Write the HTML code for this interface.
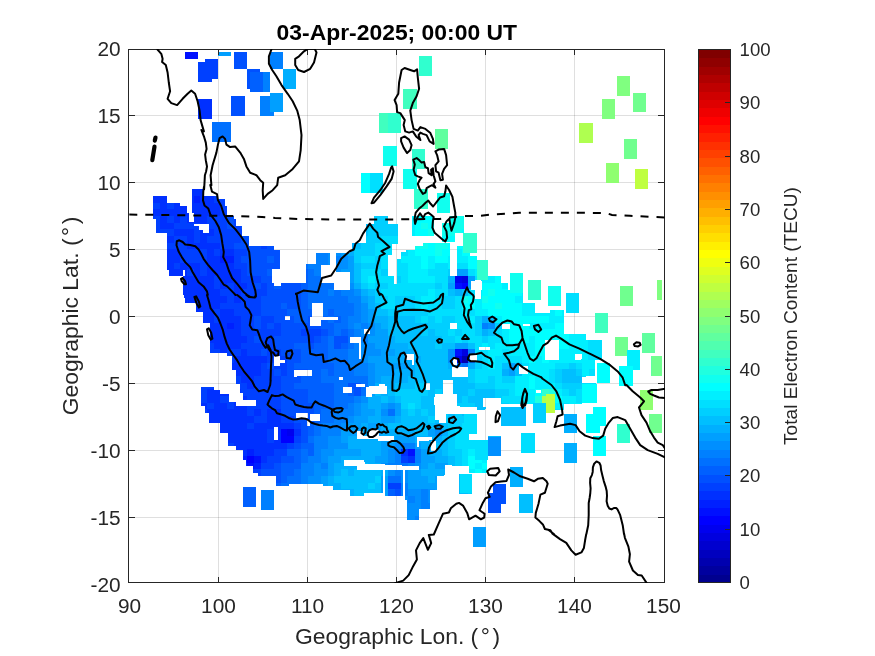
<!DOCTYPE html><html><head><meta charset="utf-8"><title>TEC map</title>
<style>html,body{margin:0;padding:0;background:#fff;}body{width:875px;height:656px;overflow:hidden;font-family:"Liberation Sans",sans-serif;}svg{display:block;will-change:transform;}text{font-family:"Liberation Sans",sans-serif;fill:#262626;}</style></head><body>
<svg width="875" height="656" viewBox="0 0 875 656">
<rect x="0" y="0" width="875" height="656" fill="#ffffff"/>
<path d="M218.5 49.5V582.5M307.5 49.5V582.5M396.5 49.5V582.5M485.5 49.5V582.5M574.5 49.5V582.5" stroke="#262626" stroke-opacity="0.15" stroke-width="1" fill="none" shape-rendering="crispEdges"/>
<path d="M128.5 517.5H664.5M128.5 450.5H664.5M128.5 383.5H664.5M128.5 316.5H664.5M128.5 249.5H664.5M128.5 182.5H664.5M128.5 115.5H664.5" stroke="#262626" stroke-opacity="0.15" stroke-width="1" fill="none" shape-rendering="crispEdges"/>
<defs><clipPath id="axclip"><rect x="128" y="49" width="537" height="534"/></clipPath></defs><defs><mask id="blob" maskUnits="userSpaceOnUse" x="0" y="0" width="875" height="656"><rect x="0" y="0" width="875" height="656" fill="#000"/><g fill="#fff" shape-rendering="crispEdges"><rect x="153.4" y="195.9" width="13.4" height="23.5"/><rect x="155.9" y="202.6" width="24.3" height="30.2"/><rect x="166.8" y="206.0" width="20.4" height="63.7"/><rect x="187.2" y="212.7" width="2.0" height="57.0"/><rect x="189.2" y="222.2" width="4.7" height="72.7"/><rect x="169.3" y="269.6" width="13.4" height="6.7"/><rect x="182.7" y="276.4" width="2.0" height="18.6"/><rect x="184.7" y="267.1" width="9.2" height="27.8"/><rect x="191.6" y="189.2" width="12.4" height="23.5"/><rect x="193.9" y="212.7" width="10.1" height="10.9"/><rect x="193.9" y="223.6" width="10.1" height="9.2"/><rect x="193.9" y="232.8" width="10.1" height="62.2"/><rect x="204.0" y="195.6" width="12.9" height="99.4"/><rect x="216.9" y="199.2" width="8.0" height="95.7"/><rect x="224.9" y="206.0" width="2.0" height="89.0"/><rect x="226.9" y="216.0" width="6.7" height="78.9"/><rect x="233.6" y="219.4" width="2.2" height="75.6"/><rect x="235.8" y="226.1" width="6.2" height="68.9"/><rect x="242.0" y="236.3" width="7.2" height="58.7"/><rect x="249.2" y="246.3" width="22.3" height="48.6"/><rect x="271.5" y="246.3" width="2.5" height="22.5"/><rect x="274.0" y="249.7" width="6.4" height="19.1"/><rect x="271.5" y="283.1" width="2.5" height="11.9"/><rect x="274.0" y="285.6" width="22.0" height="9.4"/><rect x="280.7" y="283.1" width="15.3" height="2.5"/><rect x="374.4" y="216.0" width="13.4" height="10.1"/><rect x="365.6" y="223.6" width="32.7" height="20.1"/><rect x="352.2" y="242.8" width="40.2" height="12.6"/><rect x="349.6" y="249.5" width="38.2" height="45.4"/><rect x="336.2" y="252.9" width="13.4" height="19.3"/><rect x="316.1" y="252.9" width="13.4" height="12.1"/><rect x="305.7" y="263.8" width="15.4" height="31.2"/><rect x="295.2" y="282.6" width="10.6" height="12.4"/><rect x="321.1" y="283.1" width="12.6" height="11.9"/><rect x="333.7" y="289.8" width="15.9" height="5.2"/><rect x="387.9" y="276.4" width="6.2" height="18.6"/><rect x="394.1" y="283.9" width="2.5" height="11.1"/><rect x="396.6" y="258.8" width="46.1" height="36.2"/><rect x="400.8" y="252.0" width="41.9" height="6.7"/><rect x="405.8" y="249.5" width="36.9" height="2.5"/><rect x="415.0" y="246.2" width="27.7" height="3.4"/><rect x="423.4" y="242.8" width="19.3" height="3.4"/><rect x="412.2" y="215.7" width="21.7" height="20.1"/><rect x="441.5" y="222.6" width="13.2" height="19.5"/><rect x="449.7" y="215.7" width="13.8" height="17.6"/><rect x="463.0" y="232.8" width="13.7" height="20.1"/><rect x="457.1" y="246.2" width="12.6" height="48.8"/><rect x="469.7" y="256.2" width="7.0" height="25.1"/><rect x="476.7" y="259.6" width="10.9" height="20.1"/><rect x="441.2" y="242.8" width="9.2" height="52.1"/><rect x="450.4" y="276.4" width="6.7" height="18.6"/><rect x="487.6" y="276.4" width="13.4" height="18.6"/><rect x="501.0" y="283.1" width="7.2" height="11.9"/><rect x="482.2" y="279.7" width="5.4" height="15.3"/><rect x="481.4" y="289.8" width="9.2" height="5.2"/><rect x="183.5" y="295.0" width="113.1" height="3.4"/><rect x="185.2" y="298.4" width="111.5" height="4.7"/><rect x="195.6" y="303.0" width="101.1" height="8.7"/><rect x="202.8" y="311.8" width="93.9" height="11.4"/><rect x="209.5" y="323.2" width="87.2" height="29.7"/><rect x="227.4" y="352.8" width="69.2" height="3.4"/><rect x="232.1" y="356.2" width="64.5" height="13.4"/><rect x="236.3" y="369.6" width="60.3" height="14.2"/><rect x="240.5" y="383.8" width="56.2" height="9.2"/><rect x="243.0" y="393.1" width="53.6" height="6.7"/><rect x="256.4" y="399.8" width="40.2" height="5.9"/><rect x="200.6" y="386.9" width="13.1" height="15.4"/><rect x="203.3" y="402.3" width="10.4" height="3.4"/><rect x="213.7" y="390.2" width="6.7" height="15.4"/><rect x="220.4" y="393.6" width="8.4" height="12.1"/><rect x="228.8" y="402.3" width="3.4" height="3.4"/><rect x="295.2" y="294.2" width="148.3" height="111.5"/><rect x="441.0" y="295.0" width="10.0" height="110.0"/><rect x="450.0" y="272.5" width="6.3" height="131.4"/><rect x="456.3" y="247.5" width="13.8" height="156.4"/><rect x="463.8" y="240.0" width="12.5" height="12.5"/><rect x="470.0" y="260.0" width="18.0" height="143.9"/><rect x="488.0" y="276.3" width="13.3" height="127.7"/><rect x="501.3" y="290.1" width="8.8" height="113.9"/><rect x="510.1" y="273.0" width="13.3" height="130.9"/><rect x="523.3" y="302.6" width="11.8" height="101.4"/><rect x="535.1" y="312.6" width="15.0" height="91.4"/><rect x="550.1" y="309.6" width="13.8" height="94.4"/><rect x="563.9" y="333.9" width="18.0" height="70.1"/><rect x="581.9" y="333.9" width="4.5" height="42.6"/><rect x="586.4" y="340.1" width="15.0" height="19.5"/><rect x="586.4" y="359.6" width="8.8" height="16.8"/><rect x="581.9" y="383.2" width="14.5" height="19.5"/><rect x="200.6" y="387.0" width="4.5" height="19.3"/><rect x="205.1" y="387.0" width="4.3" height="25.5"/><rect x="209.3" y="387.0" width="4.3" height="36.0"/><rect x="213.6" y="390.3" width="6.8" height="32.8"/><rect x="220.1" y="393.5" width="7.5" height="39.0"/><rect x="227.6" y="393.5" width="1.3" height="52.8"/><rect x="228.8" y="402.3" width="7.5" height="44.1"/><rect x="236.4" y="406.3" width="6.3" height="43.8"/><rect x="242.6" y="406.3" width="3.8" height="53.8"/><rect x="246.4" y="406.3" width="6.3" height="60.1"/><rect x="252.6" y="406.3" width="3.8" height="66.3"/><rect x="256.4" y="399.8" width="1.3" height="72.8"/><rect x="257.6" y="399.8" width="18.8" height="76.6"/><rect x="276.4" y="399.8" width="12.5" height="86.6"/><rect x="288.9" y="399.8" width="33.8" height="84.1"/><rect x="322.7" y="399.8" width="10.0" height="86.6"/><rect x="332.7" y="399.8" width="17.5" height="90.4"/><rect x="350.3" y="399.8" width="12.5" height="96.6"/><rect x="362.8" y="399.8" width="7.0" height="92.9"/><rect x="236.4" y="380.0" width="133.4" height="2.5"/><rect x="240.1" y="382.5" width="129.7" height="10.0"/><rect x="243.1" y="392.5" width="126.7" height="7.3"/><rect x="369.0" y="380.0" width="75.1" height="6.3"/><rect x="386.5" y="386.3" width="48.8" height="11.3"/><rect x="369.0" y="393.8" width="66.3" height="47.8"/><rect x="435.3" y="407.5" width="16.3" height="34.0"/><rect x="451.6" y="413.8" width="25.0" height="20.0"/><rect x="369.0" y="437.6" width="32.5" height="27.5"/><rect x="401.5" y="440.1" width="17.5" height="26.3"/><rect x="419.1" y="441.3" width="32.5" height="23.8"/><rect x="451.6" y="433.8" width="17.5" height="32.5"/><rect x="469.1" y="440.1" width="17.5" height="20.0"/><rect x="474.1" y="460.1" width="12.5" height="12.5"/><rect x="369.0" y="470.1" width="13.8" height="22.5"/><rect x="385.3" y="470.1" width="17.5" height="26.3"/><rect x="405.3" y="470.1" width="31.3" height="20.0"/><rect x="419.1" y="465.1" width="25.0" height="11.3"/><rect x="405.3" y="490.1" width="25.0" height="10.0"/><rect x="406.5" y="500.2" width="12.5" height="20.0"/><rect x="419.1" y="490.1" width="11.3" height="18.8"/><rect x="459.1" y="473.9" width="13.0" height="18.8"/><rect x="452.9" y="380.0" width="33.8" height="17.5"/><rect x="456.6" y="397.5" width="12.5" height="8.8"/><rect x="470.4" y="395.0" width="16.3" height="13.8"/><rect x="350.0" y="488.8" width="13.8" height="7.5"/><rect x="385.6" y="470.0" width="13.3" height="7.5"/><rect x="430.1" y="458.8" width="15.0" height="16.3"/><rect x="458.9" y="473.8" width="13.0" height="20.0"/><rect x="468.9" y="458.8" width="13.8" height="13.8"/><rect x="473.9" y="440.0" width="13.8" height="18.8"/><rect x="445.1" y="440.0" width="28.8" height="22.5"/><rect x="460.0" y="395.0" width="10.0" height="12.5"/><rect x="470.0" y="395.0" width="15.0" height="15.0"/><rect x="510.1" y="395.0" width="11.3" height="8.8"/><rect x="555.1" y="395.0" width="8.8" height="15.0"/></g><g fill="#000" shape-rendering="crispEdges"><rect x="193.9" y="223.6" width="15.1" height="2.5"/><rect x="198.6" y="226.1" width="10.4" height="3.7"/><rect x="203.1" y="229.8" width="5.9" height="3.0"/><rect x="470.5" y="281.4" width="11.7" height="8.4"/><rect x="450.4" y="246.2" width="6.7" height="30.2"/><rect x="285.4" y="316.0" width="4.2" height="4.2"/><rect x="274.0" y="356.2" width="5.9" height="10.1"/><rect x="279.9" y="359.5" width="5.0" height="3.9"/><rect x="294.2" y="370.4" width="2.5" height="6.7"/><rect x="311.9" y="303.0" width="10.9" height="13.7"/><rect x="309.7" y="316.5" width="28.2" height="3.7"/><rect x="309.7" y="320.1" width="11.1" height="5.9"/><rect x="350.0" y="336.6" width="10.6" height="6.2"/><rect x="358.9" y="342.8" width="1.7" height="15.9"/><rect x="296.0" y="370.4" width="15.9" height="5.9"/><rect x="338.7" y="376.6" width="4.2" height="3.5"/><rect x="343.3" y="386.9" width="8.5" height="6.2"/><rect x="356.3" y="383.5" width="8.4" height="3.4"/><rect x="365.6" y="386.9" width="19.3" height="6.2"/><rect x="379.0" y="383.5" width="5.9" height="3.7"/><rect x="365.6" y="393.1" width="6.7" height="3.4"/><rect x="405.0" y="353.7" width="9.2" height="6.7"/><rect x="411.7" y="360.4" width="2.5" height="5.0"/><rect x="425.9" y="383.8" width="4.2" height="5.9"/><rect x="434.3" y="397.2" width="8.4" height="7.7"/><rect x="449.5" y="322.7" width="7.5" height="6.7"/><rect x="501.5" y="323.5" width="8.4" height="5.9"/><rect x="523.3" y="323.5" width="6.7" height="2.5"/><rect x="479.2" y="347.0" width="10.6" height="2.5"/><rect x="519.1" y="366.2" width="9.2" height="7.5"/><rect x="536.7" y="390.2" width="4.5" height="2.8"/><rect x="575.3" y="353.7" width="5.9" height="6.7"/><rect x="475.0" y="280.1" width="6.3" height="18.8"/><rect x="545.1" y="340.1" width="13.8" height="20.0"/><rect x="575.2" y="353.9" width="6.8" height="5.0"/><rect x="536.4" y="389.7" width="5.0" height="3.0"/><rect x="274.4" y="427.1" width="3.8" height="13.0"/><rect x="307.2" y="420.1" width="3.0" height="6.3"/><rect x="310.2" y="413.8" width="10.0" height="7.5"/><rect x="296.4" y="412.5" width="11.3" height="5.0"/><rect x="342.7" y="387.0" width="8.8" height="5.5"/><rect x="356.5" y="383.8" width="8.8" height="3.3"/><rect x="344.0" y="460.1" width="20.0" height="6.3"/><rect x="356.5" y="466.4" width="13.3" height="3.8"/><rect x="356.5" y="431.3" width="6.3" height="7.5"/><rect x="369.0" y="386.3" width="17.5" height="7.5"/><rect x="377.8" y="436.3" width="16.3" height="4.5"/><rect x="419.1" y="437.6" width="10.0" height="3.8"/><rect x="445.3" y="380.0" width="7.5" height="15.0"/><rect x="435.3" y="393.8" width="21.3" height="13.8"/><rect x="435.3" y="407.5" width="10.0" height="12.5"/><rect x="345.0" y="462.0" width="20.0" height="4.3"/><rect x="365.0" y="463.8" width="20.0" height="3.8"/><rect x="452.2" y="367.0" width="15.7" height="10.1"/><rect x="443.4" y="380.2" width="8.8" height="16.3"/><rect x="434.6" y="396.5" width="22.6" height="17.0"/><rect x="457.2" y="406.6" width="19.7" height="6.9"/><rect x="476.9" y="409.7" width="8.5" height="22.3"/><rect x="483.0" y="398.4" width="17.6" height="8.8"/><rect x="485.5" y="407.2" width="15.7" height="24.8"/><rect x="439.0" y="413.5" width="6.9" height="9.4"/><rect x="425.8" y="383.3" width="4.4" height="6.3"/><rect x="452.5" y="358.2" width="4.3" height="6.9"/><rect x="469.8" y="355.3" width="6.9" height="5.4"/><rect x="363.9" y="328.5" width="5.9" height="5.4"/><rect x="416.8" y="437.1" width="15.1" height="3.1"/><rect x="416.8" y="440.3" width="2.3" height="6.3"/><rect x="368.5" y="430.2" width="10.1" height="6.9"/><rect x="360.0" y="435.5" width="18.9" height="3.5"/><rect x="431.4" y="441.3" width="5.0" height="9.7"/></g></mask></defs><g mask="url(#blob)" shape-rendering="crispEdges"><rect x="153.4" y="189.2" width="13.7" height="7.0" fill="#0030ff"/><rect x="166.8" y="189.2" width="7.0" height="7.0" fill="#0040ff"/><rect x="186.9" y="189.2" width="33.8" height="7.0" fill="#0030ff"/><rect x="153.4" y="195.9" width="40.5" height="7.0" fill="#0030ff"/><rect x="193.6" y="195.9" width="7.0" height="7.0" fill="#0020ff"/><rect x="200.3" y="195.9" width="13.7" height="7.0" fill="#0030ff"/><rect x="213.7" y="195.9" width="20.4" height="7.0" fill="#0040ff"/><rect x="153.4" y="202.5" width="7.0" height="7.0" fill="#0040ff"/><rect x="160.1" y="202.5" width="7.0" height="7.0" fill="#0030ff"/><rect x="166.8" y="202.5" width="7.0" height="7.0" fill="#0040ff"/><rect x="173.5" y="202.5" width="47.2" height="7.0" fill="#0030ff"/><rect x="220.4" y="202.5" width="13.7" height="7.0" fill="#0040ff"/><rect x="153.4" y="209.2" width="67.3" height="7.0" fill="#0030ff"/><rect x="220.4" y="209.2" width="20.4" height="7.0" fill="#0040ff"/><rect x="367.8" y="209.2" width="27.1" height="7.0" fill="#00cfff"/><rect x="408.0" y="209.2" width="7.0" height="7.0" fill="#00efff"/><rect x="414.7" y="209.2" width="7.0" height="7.0" fill="#00ffff"/><rect x="421.4" y="209.2" width="7.0" height="7.0" fill="#00efff"/><rect x="428.1" y="209.2" width="20.4" height="7.0" fill="#00ffff"/><rect x="448.2" y="209.2" width="20.4" height="7.0" fill="#10ffef"/><rect x="153.4" y="215.9" width="7.0" height="7.0" fill="#0040ff"/><rect x="160.1" y="215.9" width="7.0" height="7.0" fill="#0030ff"/><rect x="166.8" y="215.9" width="7.0" height="7.0" fill="#0040ff"/><rect x="173.5" y="215.9" width="7.0" height="7.0" fill="#0030ff"/><rect x="180.2" y="215.9" width="7.0" height="7.0" fill="#0040ff"/><rect x="186.9" y="215.9" width="20.4" height="7.0" fill="#0030ff"/><rect x="207.0" y="215.9" width="20.4" height="7.0" fill="#0040ff"/><rect x="227.1" y="215.9" width="7.0" height="7.0" fill="#0050ff"/><rect x="233.8" y="215.9" width="7.0" height="7.0" fill="#0040ff"/><rect x="361.1" y="215.9" width="33.8" height="7.0" fill="#00cfff"/><rect x="394.6" y="215.9" width="13.7" height="7.0" fill="#00dfff"/><rect x="408.0" y="215.9" width="7.0" height="7.0" fill="#00efff"/><rect x="414.7" y="215.9" width="27.1" height="7.0" fill="#00ffff"/><rect x="441.5" y="215.9" width="27.1" height="7.0" fill="#10ffef"/><rect x="153.4" y="222.5" width="7.0" height="7.0" fill="#0040ff"/><rect x="160.1" y="222.5" width="13.7" height="7.0" fill="#0030ff"/><rect x="173.5" y="222.5" width="27.1" height="7.0" fill="#0040ff"/><rect x="200.3" y="222.5" width="7.0" height="7.0" fill="#0030ff"/><rect x="207.0" y="222.5" width="20.4" height="7.0" fill="#0040ff"/><rect x="227.1" y="222.5" width="7.0" height="7.0" fill="#0050ff"/><rect x="233.8" y="222.5" width="7.0" height="7.0" fill="#0040ff"/><rect x="240.5" y="222.5" width="7.0" height="7.0" fill="#0050ff"/><rect x="361.1" y="222.5" width="7.0" height="7.0" fill="#00bfff"/><rect x="367.8" y="222.5" width="33.8" height="7.0" fill="#00cfff"/><rect x="401.3" y="222.5" width="7.0" height="7.0" fill="#00dfff"/><rect x="408.0" y="222.5" width="7.0" height="7.0" fill="#00efff"/><rect x="414.7" y="222.5" width="7.0" height="7.0" fill="#00ffff"/><rect x="421.4" y="222.5" width="7.0" height="7.0" fill="#10ffef"/><rect x="428.1" y="222.5" width="13.7" height="7.0" fill="#00ffff"/><rect x="441.5" y="222.5" width="27.1" height="7.0" fill="#10ffef"/><rect x="153.4" y="229.2" width="20.4" height="7.0" fill="#0040ff"/><rect x="173.5" y="229.2" width="20.4" height="7.0" fill="#0030ff"/><rect x="193.6" y="229.2" width="7.0" height="7.0" fill="#0040ff"/><rect x="200.3" y="229.2" width="13.7" height="7.0" fill="#0030ff"/><rect x="213.7" y="229.2" width="33.8" height="7.0" fill="#0040ff"/><rect x="247.2" y="229.2" width="7.0" height="7.0" fill="#0050ff"/><rect x="361.1" y="229.2" width="7.0" height="7.0" fill="#00bfff"/><rect x="367.8" y="229.2" width="33.8" height="7.0" fill="#00cfff"/><rect x="401.3" y="229.2" width="7.0" height="7.0" fill="#00dfff"/><rect x="408.0" y="229.2" width="7.0" height="7.0" fill="#00efff"/><rect x="414.7" y="229.2" width="13.7" height="7.0" fill="#00ffff"/><rect x="428.1" y="229.2" width="33.8" height="7.0" fill="#10ffef"/><rect x="461.6" y="229.2" width="20.4" height="7.0" fill="#00ffff"/><rect x="153.4" y="235.9" width="7.0" height="7.0" fill="#0040ff"/><rect x="160.1" y="235.9" width="13.7" height="7.0" fill="#0030ff"/><rect x="173.5" y="235.9" width="13.7" height="7.0" fill="#0040ff"/><rect x="186.9" y="235.9" width="7.0" height="7.0" fill="#0030ff"/><rect x="193.6" y="235.9" width="7.0" height="7.0" fill="#0040ff"/><rect x="200.3" y="235.9" width="7.0" height="7.0" fill="#0030ff"/><rect x="207.0" y="235.9" width="33.8" height="7.0" fill="#0040ff"/><rect x="240.5" y="235.9" width="13.7" height="7.0" fill="#0050ff"/><rect x="347.7" y="235.9" width="13.7" height="7.0" fill="#00bfff"/><rect x="361.1" y="235.9" width="20.4" height="7.0" fill="#00cfff"/><rect x="381.2" y="235.9" width="20.4" height="7.0" fill="#00dfff"/><rect x="401.3" y="235.9" width="7.0" height="7.0" fill="#00efff"/><rect x="408.0" y="235.9" width="7.0" height="7.0" fill="#00ffff"/><rect x="414.7" y="235.9" width="7.0" height="7.0" fill="#20ffdf"/><rect x="421.4" y="235.9" width="13.7" height="7.0" fill="#10ffef"/><rect x="434.8" y="235.9" width="47.2" height="7.0" fill="#00ffff"/><rect x="160.1" y="242.6" width="7.0" height="7.0" fill="#0030ff"/><rect x="166.8" y="242.6" width="20.4" height="7.0" fill="#0040ff"/><rect x="186.9" y="242.6" width="33.8" height="7.0" fill="#0030ff"/><rect x="220.4" y="242.6" width="13.7" height="7.0" fill="#0040ff"/><rect x="233.8" y="242.6" width="27.1" height="7.0" fill="#0050ff"/><rect x="260.6" y="242.6" width="7.0" height="7.0" fill="#0040ff"/><rect x="267.3" y="242.6" width="7.0" height="7.0" fill="#0050ff"/><rect x="274.0" y="242.6" width="13.7" height="7.0" fill="#0060ff"/><rect x="341.0" y="242.6" width="7.0" height="7.0" fill="#009fff"/><rect x="347.7" y="242.6" width="7.0" height="7.0" fill="#00afff"/><rect x="354.4" y="242.6" width="7.0" height="7.0" fill="#00bfff"/><rect x="361.1" y="242.6" width="13.7" height="7.0" fill="#00cfff"/><rect x="374.5" y="242.6" width="27.1" height="7.0" fill="#00dfff"/><rect x="401.3" y="242.6" width="7.0" height="7.0" fill="#00efff"/><rect x="408.0" y="242.6" width="7.0" height="7.0" fill="#00ffff"/><rect x="414.7" y="242.6" width="13.7" height="7.0" fill="#10ffef"/><rect x="428.1" y="242.6" width="7.0" height="7.0" fill="#00ffff"/><rect x="434.8" y="242.6" width="13.7" height="7.0" fill="#10ffef"/><rect x="448.2" y="242.6" width="33.8" height="7.0" fill="#00ffff"/><rect x="160.1" y="249.2" width="20.4" height="7.0" fill="#0030ff"/><rect x="180.2" y="249.2" width="27.1" height="7.0" fill="#0040ff"/><rect x="207.0" y="249.2" width="7.0" height="7.0" fill="#0030ff"/><rect x="213.7" y="249.2" width="7.0" height="7.0" fill="#0040ff"/><rect x="220.4" y="249.2" width="13.7" height="7.0" fill="#0030ff"/><rect x="233.8" y="249.2" width="13.7" height="7.0" fill="#0040ff"/><rect x="247.2" y="249.2" width="33.8" height="7.0" fill="#0050ff"/><rect x="280.7" y="249.2" width="7.0" height="7.0" fill="#0060ff"/><rect x="307.5" y="249.2" width="20.4" height="7.0" fill="#0080ff"/><rect x="327.6" y="249.2" width="13.7" height="7.0" fill="#008fff"/><rect x="341.0" y="249.2" width="7.0" height="7.0" fill="#009fff"/><rect x="347.7" y="249.2" width="7.0" height="7.0" fill="#00afff"/><rect x="354.4" y="249.2" width="20.4" height="7.0" fill="#00cfff"/><rect x="374.5" y="249.2" width="33.8" height="7.0" fill="#00dfff"/><rect x="408.0" y="249.2" width="7.0" height="7.0" fill="#00efff"/><rect x="414.7" y="249.2" width="20.4" height="7.0" fill="#00ffff"/><rect x="434.8" y="249.2" width="7.0" height="7.0" fill="#10ffef"/><rect x="441.5" y="249.2" width="13.7" height="7.0" fill="#00ffff"/><rect x="454.9" y="249.2" width="7.0" height="7.0" fill="#00efff"/><rect x="461.6" y="249.2" width="20.4" height="7.0" fill="#00ffff"/><rect x="160.1" y="255.9" width="7.0" height="7.0" fill="#0040ff"/><rect x="166.8" y="255.9" width="13.7" height="7.0" fill="#0030ff"/><rect x="180.2" y="255.9" width="27.1" height="7.0" fill="#0040ff"/><rect x="207.0" y="255.9" width="13.7" height="7.0" fill="#0030ff"/><rect x="220.4" y="255.9" width="13.7" height="7.0" fill="#0020ff"/><rect x="233.8" y="255.9" width="7.0" height="7.0" fill="#0040ff"/><rect x="240.5" y="255.9" width="27.1" height="7.0" fill="#0050ff"/><rect x="267.3" y="255.9" width="7.0" height="7.0" fill="#0060ff"/><rect x="274.0" y="255.9" width="7.0" height="7.0" fill="#0050ff"/><rect x="280.7" y="255.9" width="7.0" height="7.0" fill="#0060ff"/><rect x="300.8" y="255.9" width="27.1" height="7.0" fill="#0080ff"/><rect x="327.6" y="255.9" width="7.0" height="7.0" fill="#008fff"/><rect x="334.3" y="255.9" width="7.0" height="7.0" fill="#0080ff"/><rect x="341.0" y="255.9" width="7.0" height="7.0" fill="#008fff"/><rect x="347.7" y="255.9" width="7.0" height="7.0" fill="#009fff"/><rect x="354.4" y="255.9" width="7.0" height="7.0" fill="#00cfff"/><rect x="361.1" y="255.9" width="13.7" height="7.0" fill="#00dfff"/><rect x="374.5" y="255.9" width="7.0" height="7.0" fill="#00cfff"/><rect x="381.2" y="255.9" width="20.4" height="7.0" fill="#00dfff"/><rect x="401.3" y="255.9" width="20.4" height="7.0" fill="#00efff"/><rect x="421.4" y="255.9" width="7.0" height="7.0" fill="#00ffff"/><rect x="428.1" y="255.9" width="7.0" height="7.0" fill="#00efff"/><rect x="434.8" y="255.9" width="13.7" height="7.0" fill="#00ffff"/><rect x="448.2" y="255.9" width="20.4" height="7.0" fill="#00efff"/><rect x="468.3" y="255.9" width="27.1" height="7.0" fill="#00ffff"/><rect x="160.1" y="262.6" width="7.0" height="7.0" fill="#0040ff"/><rect x="166.8" y="262.6" width="7.0" height="7.0" fill="#0030ff"/><rect x="173.5" y="262.6" width="7.0" height="7.0" fill="#0040ff"/><rect x="180.2" y="262.6" width="20.4" height="7.0" fill="#0030ff"/><rect x="200.3" y="262.6" width="7.0" height="7.0" fill="#0040ff"/><rect x="207.0" y="262.6" width="27.1" height="7.0" fill="#0030ff"/><rect x="233.8" y="262.6" width="13.7" height="7.0" fill="#0040ff"/><rect x="247.2" y="262.6" width="40.5" height="7.0" fill="#0050ff"/><rect x="300.8" y="262.6" width="7.0" height="7.0" fill="#0070ff"/><rect x="307.5" y="262.6" width="20.4" height="7.0" fill="#0080ff"/><rect x="327.6" y="262.6" width="20.4" height="7.0" fill="#008fff"/><rect x="347.7" y="262.6" width="7.0" height="7.0" fill="#009fff"/><rect x="354.4" y="262.6" width="7.0" height="7.0" fill="#00bfff"/><rect x="361.1" y="262.6" width="20.4" height="7.0" fill="#00cfff"/><rect x="381.2" y="262.6" width="27.1" height="7.0" fill="#00dfff"/><rect x="408.0" y="262.6" width="13.7" height="7.0" fill="#00efff"/><rect x="421.4" y="262.6" width="7.0" height="7.0" fill="#00ffff"/><rect x="428.1" y="262.6" width="7.0" height="7.0" fill="#00efff"/><rect x="434.8" y="262.6" width="13.7" height="7.0" fill="#00dfff"/><rect x="448.2" y="262.6" width="7.0" height="7.0" fill="#00efff"/><rect x="454.9" y="262.6" width="13.7" height="7.0" fill="#00dfff"/><rect x="468.3" y="262.6" width="20.4" height="7.0" fill="#00ffff"/><rect x="488.4" y="262.6" width="7.0" height="7.0" fill="#00efff"/><rect x="160.1" y="269.2" width="27.1" height="7.0" fill="#0030ff"/><rect x="186.9" y="269.2" width="7.0" height="7.0" fill="#0040ff"/><rect x="193.6" y="269.2" width="7.0" height="7.0" fill="#0030ff"/><rect x="200.3" y="269.2" width="7.0" height="7.0" fill="#0040ff"/><rect x="207.0" y="269.2" width="33.8" height="7.0" fill="#0030ff"/><rect x="240.5" y="269.2" width="7.0" height="7.0" fill="#0040ff"/><rect x="247.2" y="269.2" width="20.4" height="7.0" fill="#0050ff"/><rect x="267.3" y="269.2" width="7.0" height="7.0" fill="#0060ff"/><rect x="274.0" y="269.2" width="7.0" height="7.0" fill="#0050ff"/><rect x="280.7" y="269.2" width="7.0" height="7.0" fill="#0060ff"/><rect x="300.8" y="269.2" width="7.0" height="7.0" fill="#0060ff"/><rect x="307.5" y="269.2" width="7.0" height="7.0" fill="#0070ff"/><rect x="314.2" y="269.2" width="20.4" height="7.0" fill="#0080ff"/><rect x="334.3" y="269.2" width="7.0" height="7.0" fill="#008fff"/><rect x="341.0" y="269.2" width="13.7" height="7.0" fill="#009fff"/><rect x="354.4" y="269.2" width="7.0" height="7.0" fill="#00bfff"/><rect x="361.1" y="269.2" width="20.4" height="7.0" fill="#00dfff"/><rect x="381.2" y="269.2" width="13.7" height="7.0" fill="#00cfff"/><rect x="394.6" y="269.2" width="13.7" height="7.0" fill="#00dfff"/><rect x="408.0" y="269.2" width="20.4" height="7.0" fill="#00efff"/><rect x="428.1" y="269.2" width="20.4" height="7.0" fill="#00dfff"/><rect x="448.2" y="269.2" width="7.0" height="7.0" fill="#00cfff"/><rect x="454.9" y="269.2" width="13.7" height="7.0" fill="#009fff"/><rect x="468.3" y="269.2" width="7.0" height="7.0" fill="#00dfff"/><rect x="475.0" y="269.2" width="27.1" height="7.0" fill="#00efff"/><rect x="501.8" y="269.2" width="13.7" height="7.0" fill="#00ffff"/><rect x="515.2" y="269.2" width="13.7" height="7.0" fill="#00efff"/><rect x="160.1" y="275.9" width="13.7" height="7.0" fill="#0040ff"/><rect x="173.5" y="275.9" width="40.5" height="7.0" fill="#0030ff"/><rect x="213.7" y="275.9" width="7.0" height="7.0" fill="#0040ff"/><rect x="220.4" y="275.9" width="20.4" height="7.0" fill="#0030ff"/><rect x="240.5" y="275.9" width="20.4" height="7.0" fill="#0040ff"/><rect x="260.6" y="275.9" width="40.5" height="7.0" fill="#0050ff"/><rect x="300.8" y="275.9" width="7.0" height="7.0" fill="#0060ff"/><rect x="307.5" y="275.9" width="20.4" height="7.0" fill="#0070ff"/><rect x="327.6" y="275.9" width="13.7" height="7.0" fill="#0080ff"/><rect x="341.0" y="275.9" width="7.0" height="7.0" fill="#008fff"/><rect x="347.7" y="275.9" width="7.0" height="7.0" fill="#009fff"/><rect x="354.4" y="275.9" width="7.0" height="7.0" fill="#00bfff"/><rect x="361.1" y="275.9" width="7.0" height="7.0" fill="#00dfff"/><rect x="367.8" y="275.9" width="7.0" height="7.0" fill="#00efff"/><rect x="374.5" y="275.9" width="20.4" height="7.0" fill="#00dfff"/><rect x="394.6" y="275.9" width="7.0" height="7.0" fill="#00cfff"/><rect x="401.3" y="275.9" width="7.0" height="7.0" fill="#00dfff"/><rect x="408.0" y="275.9" width="27.1" height="7.0" fill="#00efff"/><rect x="434.8" y="275.9" width="13.7" height="7.0" fill="#00dfff"/><rect x="448.2" y="275.9" width="7.0" height="7.0" fill="#00afff"/><rect x="454.9" y="275.9" width="7.0" height="7.0" fill="#0000ef"/><rect x="461.6" y="275.9" width="7.0" height="7.0" fill="#0000df"/><rect x="468.3" y="275.9" width="7.0" height="7.0" fill="#009fff"/><rect x="475.0" y="275.9" width="7.0" height="7.0" fill="#00dfff"/><rect x="481.7" y="275.9" width="13.7" height="7.0" fill="#00efff"/><rect x="495.1" y="275.9" width="7.0" height="7.0" fill="#00ffff"/><rect x="501.8" y="275.9" width="27.1" height="7.0" fill="#00efff"/><rect x="173.5" y="282.6" width="7.0" height="7.0" fill="#0040ff"/><rect x="180.2" y="282.6" width="33.8" height="7.0" fill="#0030ff"/><rect x="213.7" y="282.6" width="7.0" height="7.0" fill="#0040ff"/><rect x="220.4" y="282.6" width="7.0" height="7.0" fill="#0030ff"/><rect x="227.1" y="282.6" width="7.0" height="7.0" fill="#0040ff"/><rect x="233.8" y="282.6" width="13.7" height="7.0" fill="#0030ff"/><rect x="247.2" y="282.6" width="7.0" height="7.0" fill="#0040ff"/><rect x="253.9" y="282.6" width="7.0" height="7.0" fill="#0050ff"/><rect x="260.6" y="282.6" width="7.0" height="7.0" fill="#0040ff"/><rect x="267.3" y="282.6" width="7.0" height="7.0" fill="#0050ff"/><rect x="274.0" y="282.6" width="7.0" height="7.0" fill="#0060ff"/><rect x="280.7" y="282.6" width="20.4" height="7.0" fill="#0050ff"/><rect x="300.8" y="282.6" width="7.0" height="7.0" fill="#0060ff"/><rect x="307.5" y="282.6" width="33.8" height="7.0" fill="#0070ff"/><rect x="341.0" y="282.6" width="7.0" height="7.0" fill="#0080ff"/><rect x="347.7" y="282.6" width="7.0" height="7.0" fill="#008fff"/><rect x="354.4" y="282.6" width="7.0" height="7.0" fill="#00afff"/><rect x="361.1" y="282.6" width="7.0" height="7.0" fill="#00cfff"/><rect x="367.8" y="282.6" width="7.0" height="7.0" fill="#00dfff"/><rect x="374.5" y="282.6" width="13.7" height="7.0" fill="#00cfff"/><rect x="387.9" y="282.6" width="47.2" height="7.0" fill="#00dfff"/><rect x="434.8" y="282.6" width="7.0" height="7.0" fill="#00cfff"/><rect x="441.5" y="282.6" width="7.0" height="7.0" fill="#00dfff"/><rect x="448.2" y="282.6" width="7.0" height="7.0" fill="#009fff"/><rect x="454.9" y="282.6" width="7.0" height="7.0" fill="#0010ff"/><rect x="461.6" y="282.6" width="7.0" height="7.0" fill="#0000ff"/><rect x="468.3" y="282.6" width="7.0" height="7.0" fill="#009fff"/><rect x="475.0" y="282.6" width="7.0" height="7.0" fill="#00efff"/><rect x="481.7" y="282.6" width="20.4" height="7.0" fill="#00ffff"/><rect x="501.8" y="282.6" width="13.7" height="7.0" fill="#00efff"/><rect x="515.2" y="282.6" width="7.0" height="7.0" fill="#00ffff"/><rect x="521.9" y="282.6" width="7.0" height="7.0" fill="#00efff"/><rect x="173.5" y="289.2" width="47.2" height="7.0" fill="#0030ff"/><rect x="220.4" y="289.2" width="13.7" height="7.0" fill="#0040ff"/><rect x="233.8" y="289.2" width="7.0" height="7.0" fill="#0030ff"/><rect x="240.5" y="289.2" width="27.1" height="7.0" fill="#0040ff"/><rect x="267.3" y="289.2" width="33.8" height="7.0" fill="#0050ff"/><rect x="300.8" y="289.2" width="7.0" height="7.0" fill="#0060ff"/><rect x="307.5" y="289.2" width="20.4" height="7.0" fill="#0070ff"/><rect x="327.6" y="289.2" width="7.0" height="7.0" fill="#0080ff"/><rect x="334.3" y="289.2" width="7.0" height="7.0" fill="#0070ff"/><rect x="341.0" y="289.2" width="13.7" height="7.0" fill="#0080ff"/><rect x="354.4" y="289.2" width="7.0" height="7.0" fill="#008fff"/><rect x="361.1" y="289.2" width="7.0" height="7.0" fill="#00afff"/><rect x="367.8" y="289.2" width="7.0" height="7.0" fill="#00bfff"/><rect x="374.5" y="289.2" width="7.0" height="7.0" fill="#00cfff"/><rect x="381.2" y="289.2" width="47.2" height="7.0" fill="#00dfff"/><rect x="428.1" y="289.2" width="7.0" height="7.0" fill="#00efff"/><rect x="434.8" y="289.2" width="13.7" height="7.0" fill="#00dfff"/><rect x="448.2" y="289.2" width="7.0" height="7.0" fill="#00bfff"/><rect x="454.9" y="289.2" width="7.0" height="7.0" fill="#00afff"/><rect x="461.6" y="289.2" width="7.0" height="7.0" fill="#00bfff"/><rect x="468.3" y="289.2" width="7.0" height="7.0" fill="#00dfff"/><rect x="475.0" y="289.2" width="7.0" height="7.0" fill="#00efff"/><rect x="481.7" y="289.2" width="7.0" height="7.0" fill="#00ffff"/><rect x="488.4" y="289.2" width="7.0" height="7.0" fill="#10ffef"/><rect x="495.1" y="289.2" width="27.1" height="7.0" fill="#00ffff"/><rect x="521.9" y="289.2" width="7.0" height="7.0" fill="#00efff"/><rect x="173.5" y="295.9" width="7.0" height="7.0" fill="#0040ff"/><rect x="180.2" y="295.9" width="47.2" height="7.0" fill="#0030ff"/><rect x="227.1" y="295.9" width="7.0" height="7.0" fill="#0040ff"/><rect x="233.8" y="295.9" width="7.0" height="7.0" fill="#0030ff"/><rect x="240.5" y="295.9" width="20.4" height="7.0" fill="#0040ff"/><rect x="260.6" y="295.9" width="40.5" height="7.0" fill="#0050ff"/><rect x="300.8" y="295.9" width="7.0" height="7.0" fill="#0060ff"/><rect x="307.5" y="295.9" width="40.5" height="7.0" fill="#0070ff"/><rect x="347.7" y="295.9" width="13.7" height="7.0" fill="#0080ff"/><rect x="361.1" y="295.9" width="7.0" height="7.0" fill="#009fff"/><rect x="367.8" y="295.9" width="7.0" height="7.0" fill="#00afff"/><rect x="374.5" y="295.9" width="13.7" height="7.0" fill="#00cfff"/><rect x="387.9" y="295.9" width="7.0" height="7.0" fill="#00dfff"/><rect x="394.6" y="295.9" width="20.4" height="7.0" fill="#00cfff"/><rect x="414.7" y="295.9" width="7.0" height="7.0" fill="#00dfff"/><rect x="421.4" y="295.9" width="13.7" height="7.0" fill="#00efff"/><rect x="434.8" y="295.9" width="7.0" height="7.0" fill="#00dfff"/><rect x="441.5" y="295.9" width="13.7" height="7.0" fill="#00cfff"/><rect x="454.9" y="295.9" width="7.0" height="7.0" fill="#00dfff"/><rect x="461.6" y="295.9" width="7.0" height="7.0" fill="#10ffef"/><rect x="468.3" y="295.9" width="7.0" height="7.0" fill="#00ffff"/><rect x="475.0" y="295.9" width="7.0" height="7.0" fill="#00efff"/><rect x="481.7" y="295.9" width="7.0" height="7.0" fill="#10ffef"/><rect x="488.4" y="295.9" width="27.1" height="7.0" fill="#00ffff"/><rect x="515.2" y="295.9" width="27.1" height="7.0" fill="#00efff"/><rect x="180.2" y="302.6" width="40.5" height="7.0" fill="#0030ff"/><rect x="220.4" y="302.6" width="40.5" height="7.0" fill="#0040ff"/><rect x="260.6" y="302.6" width="20.4" height="7.0" fill="#0050ff"/><rect x="280.7" y="302.6" width="7.0" height="7.0" fill="#0060ff"/><rect x="287.4" y="302.6" width="13.7" height="7.0" fill="#0050ff"/><rect x="300.8" y="302.6" width="7.0" height="7.0" fill="#0060ff"/><rect x="307.5" y="302.6" width="47.2" height="7.0" fill="#0070ff"/><rect x="354.4" y="302.6" width="7.0" height="7.0" fill="#0080ff"/><rect x="361.1" y="302.6" width="7.0" height="7.0" fill="#008fff"/><rect x="367.8" y="302.6" width="7.0" height="7.0" fill="#00afff"/><rect x="374.5" y="302.6" width="7.0" height="7.0" fill="#00bfff"/><rect x="381.2" y="302.6" width="13.7" height="7.0" fill="#00dfff"/><rect x="394.6" y="302.6" width="20.4" height="7.0" fill="#00cfff"/><rect x="414.7" y="302.6" width="7.0" height="7.0" fill="#00dfff"/><rect x="421.4" y="302.6" width="7.0" height="7.0" fill="#00efff"/><rect x="428.1" y="302.6" width="13.7" height="7.0" fill="#00dfff"/><rect x="441.5" y="302.6" width="13.7" height="7.0" fill="#00cfff"/><rect x="454.9" y="302.6" width="7.0" height="7.0" fill="#00dfff"/><rect x="461.6" y="302.6" width="13.7" height="7.0" fill="#00ffff"/><rect x="475.0" y="302.6" width="7.0" height="7.0" fill="#00efff"/><rect x="481.7" y="302.6" width="13.7" height="7.0" fill="#00ffff"/><rect x="495.1" y="302.6" width="7.0" height="7.0" fill="#10ffef"/><rect x="501.8" y="302.6" width="20.4" height="7.0" fill="#00ffff"/><rect x="521.9" y="302.6" width="13.7" height="7.0" fill="#00efff"/><rect x="535.3" y="302.6" width="7.0" height="7.0" fill="#00ffff"/><rect x="542.0" y="302.6" width="27.1" height="7.0" fill="#00efff"/><rect x="186.9" y="309.3" width="27.1" height="7.0" fill="#0030ff"/><rect x="213.7" y="309.3" width="7.0" height="7.0" fill="#0040ff"/><rect x="220.4" y="309.3" width="13.7" height="7.0" fill="#0030ff"/><rect x="233.8" y="309.3" width="27.1" height="7.0" fill="#0040ff"/><rect x="260.6" y="309.3" width="27.1" height="7.0" fill="#0050ff"/><rect x="287.4" y="309.3" width="33.8" height="7.0" fill="#0060ff"/><rect x="320.9" y="309.3" width="7.0" height="7.0" fill="#0070ff"/><rect x="327.6" y="309.3" width="7.0" height="7.0" fill="#0060ff"/><rect x="334.3" y="309.3" width="20.4" height="7.0" fill="#0070ff"/><rect x="354.4" y="309.3" width="7.0" height="7.0" fill="#0080ff"/><rect x="361.1" y="309.3" width="7.0" height="7.0" fill="#008fff"/><rect x="367.8" y="309.3" width="7.0" height="7.0" fill="#009fff"/><rect x="374.5" y="309.3" width="13.7" height="7.0" fill="#00bfff"/><rect x="387.9" y="309.3" width="40.5" height="7.0" fill="#00cfff"/><rect x="428.1" y="309.3" width="33.8" height="7.0" fill="#00dfff"/><rect x="461.6" y="309.3" width="7.0" height="7.0" fill="#00efff"/><rect x="468.3" y="309.3" width="7.0" height="7.0" fill="#00dfff"/><rect x="475.0" y="309.3" width="13.7" height="7.0" fill="#00efff"/><rect x="488.4" y="309.3" width="33.8" height="7.0" fill="#00ffff"/><rect x="521.9" y="309.3" width="33.8" height="7.0" fill="#00efff"/><rect x="555.4" y="309.3" width="7.0" height="7.0" fill="#00ffff"/><rect x="562.1" y="309.3" width="7.0" height="7.0" fill="#00efff"/><rect x="193.6" y="315.9" width="7.0" height="7.0" fill="#0040ff"/><rect x="200.3" y="315.9" width="13.7" height="7.0" fill="#0030ff"/><rect x="213.7" y="315.9" width="7.0" height="7.0" fill="#0040ff"/><rect x="220.4" y="315.9" width="20.4" height="7.0" fill="#0030ff"/><rect x="240.5" y="315.9" width="13.7" height="7.0" fill="#0040ff"/><rect x="253.9" y="315.9" width="7.0" height="7.0" fill="#0050ff"/><rect x="260.6" y="315.9" width="13.7" height="7.0" fill="#0040ff"/><rect x="274.0" y="315.9" width="20.4" height="7.0" fill="#0050ff"/><rect x="294.1" y="315.9" width="13.7" height="7.0" fill="#0060ff"/><rect x="307.5" y="315.9" width="7.0" height="7.0" fill="#0050ff"/><rect x="314.2" y="315.9" width="13.7" height="7.0" fill="#0060ff"/><rect x="327.6" y="315.9" width="7.0" height="7.0" fill="#0070ff"/><rect x="334.3" y="315.9" width="7.0" height="7.0" fill="#0060ff"/><rect x="341.0" y="315.9" width="7.0" height="7.0" fill="#0070ff"/><rect x="347.7" y="315.9" width="13.7" height="7.0" fill="#0080ff"/><rect x="361.1" y="315.9" width="7.0" height="7.0" fill="#008fff"/><rect x="367.8" y="315.9" width="7.0" height="7.0" fill="#009fff"/><rect x="374.5" y="315.9" width="13.7" height="7.0" fill="#00afff"/><rect x="387.9" y="315.9" width="27.1" height="7.0" fill="#00bfff"/><rect x="414.7" y="315.9" width="7.0" height="7.0" fill="#00cfff"/><rect x="421.4" y="315.9" width="7.0" height="7.0" fill="#00dfff"/><rect x="428.1" y="315.9" width="7.0" height="7.0" fill="#00cfff"/><rect x="434.8" y="315.9" width="7.0" height="7.0" fill="#00dfff"/><rect x="441.5" y="315.9" width="13.7" height="7.0" fill="#00cfff"/><rect x="454.9" y="315.9" width="13.7" height="7.0" fill="#00dfff"/><rect x="468.3" y="315.9" width="7.0" height="7.0" fill="#00efff"/><rect x="475.0" y="315.9" width="7.0" height="7.0" fill="#00cfff"/><rect x="481.7" y="315.9" width="7.0" height="7.0" fill="#00afff"/><rect x="488.4" y="315.9" width="7.0" height="7.0" fill="#00bfff"/><rect x="495.1" y="315.9" width="7.0" height="7.0" fill="#00efff"/><rect x="501.8" y="315.9" width="47.2" height="7.0" fill="#00ffff"/><rect x="548.7" y="315.9" width="20.4" height="7.0" fill="#00efff"/><rect x="193.6" y="322.6" width="7.0" height="7.0" fill="#0040ff"/><rect x="200.3" y="322.6" width="27.1" height="7.0" fill="#0030ff"/><rect x="227.1" y="322.6" width="7.0" height="7.0" fill="#0020ff"/><rect x="233.8" y="322.6" width="7.0" height="7.0" fill="#0030ff"/><rect x="240.5" y="322.6" width="13.7" height="7.0" fill="#0040ff"/><rect x="253.9" y="322.6" width="7.0" height="7.0" fill="#0050ff"/><rect x="260.6" y="322.6" width="7.0" height="7.0" fill="#0040ff"/><rect x="267.3" y="322.6" width="7.0" height="7.0" fill="#0050ff"/><rect x="274.0" y="322.6" width="7.0" height="7.0" fill="#0040ff"/><rect x="280.7" y="322.6" width="40.5" height="7.0" fill="#0050ff"/><rect x="320.9" y="322.6" width="13.7" height="7.0" fill="#0060ff"/><rect x="334.3" y="322.6" width="13.7" height="7.0" fill="#0070ff"/><rect x="347.7" y="322.6" width="7.0" height="7.0" fill="#0080ff"/><rect x="354.4" y="322.6" width="7.0" height="7.0" fill="#008fff"/><rect x="361.1" y="322.6" width="7.0" height="7.0" fill="#0080ff"/><rect x="367.8" y="322.6" width="7.0" height="7.0" fill="#008fff"/><rect x="374.5" y="322.6" width="7.0" height="7.0" fill="#009fff"/><rect x="381.2" y="322.6" width="7.0" height="7.0" fill="#00afff"/><rect x="387.9" y="322.6" width="40.5" height="7.0" fill="#00bfff"/><rect x="428.1" y="322.6" width="27.1" height="7.0" fill="#00cfff"/><rect x="454.9" y="322.6" width="20.4" height="7.0" fill="#00dfff"/><rect x="475.0" y="322.6" width="7.0" height="7.0" fill="#00cfff"/><rect x="481.7" y="322.6" width="7.0" height="7.0" fill="#0080ff"/><rect x="488.4" y="322.6" width="7.0" height="7.0" fill="#008fff"/><rect x="495.1" y="322.6" width="7.0" height="7.0" fill="#00cfff"/><rect x="501.8" y="322.6" width="7.0" height="7.0" fill="#00efff"/><rect x="508.5" y="322.6" width="20.4" height="7.0" fill="#00ffff"/><rect x="528.6" y="322.6" width="27.1" height="7.0" fill="#00efff"/><rect x="555.4" y="322.6" width="13.7" height="7.0" fill="#00ffff"/><rect x="200.3" y="329.3" width="7.0" height="7.0" fill="#0040ff"/><rect x="207.0" y="329.3" width="33.8" height="7.0" fill="#0030ff"/><rect x="240.5" y="329.3" width="40.5" height="7.0" fill="#0040ff"/><rect x="280.7" y="329.3" width="20.4" height="7.0" fill="#0050ff"/><rect x="300.8" y="329.3" width="20.4" height="7.0" fill="#0040ff"/><rect x="320.9" y="329.3" width="7.0" height="7.0" fill="#0050ff"/><rect x="327.6" y="329.3" width="7.0" height="7.0" fill="#0060ff"/><rect x="334.3" y="329.3" width="7.0" height="7.0" fill="#0070ff"/><rect x="341.0" y="329.3" width="7.0" height="7.0" fill="#0060ff"/><rect x="347.7" y="329.3" width="7.0" height="7.0" fill="#0070ff"/><rect x="354.4" y="329.3" width="7.0" height="7.0" fill="#0080ff"/><rect x="361.1" y="329.3" width="13.7" height="7.0" fill="#008fff"/><rect x="374.5" y="329.3" width="13.7" height="7.0" fill="#009fff"/><rect x="387.9" y="329.3" width="33.8" height="7.0" fill="#00bfff"/><rect x="421.4" y="329.3" width="7.0" height="7.0" fill="#00cfff"/><rect x="428.1" y="329.3" width="7.0" height="7.0" fill="#00bfff"/><rect x="434.8" y="329.3" width="13.7" height="7.0" fill="#00cfff"/><rect x="448.2" y="329.3" width="7.0" height="7.0" fill="#00dfff"/><rect x="454.9" y="329.3" width="7.0" height="7.0" fill="#00cfff"/><rect x="461.6" y="329.3" width="13.7" height="7.0" fill="#00dfff"/><rect x="475.0" y="329.3" width="7.0" height="7.0" fill="#00cfff"/><rect x="481.7" y="329.3" width="7.0" height="7.0" fill="#00afff"/><rect x="488.4" y="329.3" width="7.0" height="7.0" fill="#00bfff"/><rect x="495.1" y="329.3" width="7.0" height="7.0" fill="#00dfff"/><rect x="501.8" y="329.3" width="7.0" height="7.0" fill="#00efff"/><rect x="508.5" y="329.3" width="60.6" height="7.0" fill="#00ffff"/><rect x="568.8" y="329.3" width="27.1" height="7.0" fill="#00efff"/><rect x="200.3" y="335.9" width="7.0" height="7.0" fill="#0040ff"/><rect x="207.0" y="335.9" width="40.5" height="7.0" fill="#0030ff"/><rect x="247.2" y="335.9" width="7.0" height="7.0" fill="#0040ff"/><rect x="253.9" y="335.9" width="7.0" height="7.0" fill="#0050ff"/><rect x="260.6" y="335.9" width="13.7" height="7.0" fill="#0040ff"/><rect x="274.0" y="335.9" width="33.8" height="7.0" fill="#0050ff"/><rect x="307.5" y="335.9" width="7.0" height="7.0" fill="#0040ff"/><rect x="314.2" y="335.9" width="7.0" height="7.0" fill="#0050ff"/><rect x="320.9" y="335.9" width="7.0" height="7.0" fill="#0060ff"/><rect x="327.6" y="335.9" width="7.0" height="7.0" fill="#0070ff"/><rect x="334.3" y="335.9" width="13.7" height="7.0" fill="#0050ff"/><rect x="347.7" y="335.9" width="7.0" height="7.0" fill="#0070ff"/><rect x="354.4" y="335.9" width="13.7" height="7.0" fill="#0080ff"/><rect x="367.8" y="335.9" width="20.4" height="7.0" fill="#009fff"/><rect x="387.9" y="335.9" width="7.0" height="7.0" fill="#00afff"/><rect x="394.6" y="335.9" width="47.2" height="7.0" fill="#00bfff"/><rect x="441.5" y="335.9" width="13.7" height="7.0" fill="#00cfff"/><rect x="454.9" y="335.9" width="7.0" height="7.0" fill="#00dfff"/><rect x="461.6" y="335.9" width="7.0" height="7.0" fill="#00cfff"/><rect x="468.3" y="335.9" width="13.7" height="7.0" fill="#00dfff"/><rect x="481.7" y="335.9" width="7.0" height="7.0" fill="#00cfff"/><rect x="488.4" y="335.9" width="13.7" height="7.0" fill="#00dfff"/><rect x="501.8" y="335.9" width="7.0" height="7.0" fill="#00efff"/><rect x="508.5" y="335.9" width="20.4" height="7.0" fill="#00ffff"/><rect x="528.6" y="335.9" width="7.0" height="7.0" fill="#00efff"/><rect x="535.3" y="335.9" width="33.8" height="7.0" fill="#00ffff"/><rect x="568.8" y="335.9" width="33.8" height="7.0" fill="#00efff"/><rect x="200.3" y="342.6" width="13.7" height="7.0" fill="#0040ff"/><rect x="213.7" y="342.6" width="27.1" height="7.0" fill="#0030ff"/><rect x="240.5" y="342.6" width="33.8" height="7.0" fill="#0040ff"/><rect x="274.0" y="342.6" width="20.4" height="7.0" fill="#0050ff"/><rect x="294.1" y="342.6" width="13.7" height="7.0" fill="#0060ff"/><rect x="307.5" y="342.6" width="7.0" height="7.0" fill="#0050ff"/><rect x="314.2" y="342.6" width="13.7" height="7.0" fill="#0060ff"/><rect x="327.6" y="342.6" width="7.0" height="7.0" fill="#0070ff"/><rect x="334.3" y="342.6" width="7.0" height="7.0" fill="#0050ff"/><rect x="341.0" y="342.6" width="7.0" height="7.0" fill="#0060ff"/><rect x="347.7" y="342.6" width="7.0" height="7.0" fill="#0070ff"/><rect x="354.4" y="342.6" width="7.0" height="7.0" fill="#0080ff"/><rect x="361.1" y="342.6" width="13.7" height="7.0" fill="#008fff"/><rect x="374.5" y="342.6" width="13.7" height="7.0" fill="#009fff"/><rect x="387.9" y="342.6" width="20.4" height="7.0" fill="#00afff"/><rect x="408.0" y="342.6" width="27.1" height="7.0" fill="#00bfff"/><rect x="434.8" y="342.6" width="7.0" height="7.0" fill="#00cfff"/><rect x="441.5" y="342.6" width="13.7" height="7.0" fill="#00bfff"/><rect x="454.9" y="342.6" width="13.7" height="7.0" fill="#009fff"/><rect x="468.3" y="342.6" width="7.0" height="7.0" fill="#00bfff"/><rect x="475.0" y="342.6" width="7.0" height="7.0" fill="#00dfff"/><rect x="481.7" y="342.6" width="7.0" height="7.0" fill="#00efff"/><rect x="488.4" y="342.6" width="7.0" height="7.0" fill="#00dfff"/><rect x="495.1" y="342.6" width="40.5" height="7.0" fill="#00efff"/><rect x="535.3" y="342.6" width="33.8" height="7.0" fill="#00ffff"/><rect x="568.8" y="342.6" width="33.8" height="7.0" fill="#00efff"/><rect x="200.3" y="349.3" width="20.4" height="7.0" fill="#0040ff"/><rect x="220.4" y="349.3" width="7.0" height="7.0" fill="#0030ff"/><rect x="227.1" y="349.3" width="13.7" height="7.0" fill="#0040ff"/><rect x="240.5" y="349.3" width="7.0" height="7.0" fill="#0030ff"/><rect x="247.2" y="349.3" width="13.7" height="7.0" fill="#0040ff"/><rect x="260.6" y="349.3" width="7.0" height="7.0" fill="#0050ff"/><rect x="267.3" y="349.3" width="13.7" height="7.0" fill="#0040ff"/><rect x="280.7" y="349.3" width="20.4" height="7.0" fill="#0050ff"/><rect x="300.8" y="349.3" width="27.1" height="7.0" fill="#0060ff"/><rect x="327.6" y="349.3" width="20.4" height="7.0" fill="#0070ff"/><rect x="347.7" y="349.3" width="13.7" height="7.0" fill="#0080ff"/><rect x="361.1" y="349.3" width="20.4" height="7.0" fill="#008fff"/><rect x="381.2" y="349.3" width="13.7" height="7.0" fill="#009fff"/><rect x="394.6" y="349.3" width="20.4" height="7.0" fill="#00afff"/><rect x="414.7" y="349.3" width="33.8" height="7.0" fill="#00bfff"/><rect x="448.2" y="349.3" width="7.0" height="7.0" fill="#008fff"/><rect x="454.9" y="349.3" width="7.0" height="7.0" fill="#0010ff"/><rect x="461.6" y="349.3" width="7.0" height="7.0" fill="#0000df"/><rect x="468.3" y="349.3" width="7.0" height="7.0" fill="#0080ff"/><rect x="475.0" y="349.3" width="13.7" height="7.0" fill="#00dfff"/><rect x="488.4" y="349.3" width="13.7" height="7.0" fill="#00efff"/><rect x="501.8" y="349.3" width="7.0" height="7.0" fill="#00dfff"/><rect x="508.5" y="349.3" width="27.1" height="7.0" fill="#00efff"/><rect x="535.3" y="349.3" width="20.4" height="7.0" fill="#00ffff"/><rect x="555.4" y="349.3" width="47.2" height="7.0" fill="#00efff"/><rect x="200.3" y="355.9" width="20.4" height="7.0" fill="#0040ff"/><rect x="220.4" y="355.9" width="7.0" height="7.0" fill="#0030ff"/><rect x="227.1" y="355.9" width="7.0" height="7.0" fill="#0040ff"/><rect x="233.8" y="355.9" width="33.8" height="7.0" fill="#0030ff"/><rect x="267.3" y="355.9" width="20.4" height="7.0" fill="#0040ff"/><rect x="287.4" y="355.9" width="13.7" height="7.0" fill="#0050ff"/><rect x="300.8" y="355.9" width="27.1" height="7.0" fill="#0060ff"/><rect x="327.6" y="355.9" width="20.4" height="7.0" fill="#0070ff"/><rect x="347.7" y="355.9" width="13.7" height="7.0" fill="#0080ff"/><rect x="361.1" y="355.9" width="7.0" height="7.0" fill="#008fff"/><rect x="367.8" y="355.9" width="20.4" height="7.0" fill="#009fff"/><rect x="387.9" y="355.9" width="33.8" height="7.0" fill="#00afff"/><rect x="421.4" y="355.9" width="27.1" height="7.0" fill="#00bfff"/><rect x="448.2" y="355.9" width="7.0" height="7.0" fill="#008fff"/><rect x="454.9" y="355.9" width="7.0" height="7.0" fill="#0000ef"/><rect x="461.6" y="355.9" width="7.0" height="7.0" fill="#0000af"/><rect x="468.3" y="355.9" width="7.0" height="7.0" fill="#0070ff"/><rect x="475.0" y="355.9" width="7.0" height="7.0" fill="#00cfff"/><rect x="481.7" y="355.9" width="7.0" height="7.0" fill="#00dfff"/><rect x="488.4" y="355.9" width="7.0" height="7.0" fill="#00efff"/><rect x="495.1" y="355.9" width="27.1" height="7.0" fill="#00dfff"/><rect x="521.9" y="355.9" width="7.0" height="7.0" fill="#00efff"/><rect x="528.6" y="355.9" width="7.0" height="7.0" fill="#00ffff"/><rect x="535.3" y="355.9" width="7.0" height="7.0" fill="#00efff"/><rect x="542.0" y="355.9" width="7.0" height="7.0" fill="#00ffff"/><rect x="548.7" y="355.9" width="53.9" height="7.0" fill="#00efff"/><rect x="227.1" y="362.6" width="33.8" height="7.0" fill="#0030ff"/><rect x="260.6" y="362.6" width="7.0" height="7.0" fill="#0040ff"/><rect x="267.3" y="362.6" width="7.0" height="7.0" fill="#0050ff"/><rect x="274.0" y="362.6" width="13.7" height="7.0" fill="#0040ff"/><rect x="287.4" y="362.6" width="7.0" height="7.0" fill="#0050ff"/><rect x="294.1" y="362.6" width="40.5" height="7.0" fill="#0060ff"/><rect x="334.3" y="362.6" width="13.7" height="7.0" fill="#0070ff"/><rect x="347.7" y="362.6" width="20.4" height="7.0" fill="#0080ff"/><rect x="367.8" y="362.6" width="7.0" height="7.0" fill="#008fff"/><rect x="374.5" y="362.6" width="33.8" height="7.0" fill="#009fff"/><rect x="408.0" y="362.6" width="7.0" height="7.0" fill="#00afff"/><rect x="414.7" y="362.6" width="33.8" height="7.0" fill="#00bfff"/><rect x="448.2" y="362.6" width="7.0" height="7.0" fill="#00afff"/><rect x="454.9" y="362.6" width="7.0" height="7.0" fill="#0080ff"/><rect x="461.6" y="362.6" width="7.0" height="7.0" fill="#0070ff"/><rect x="468.3" y="362.6" width="7.0" height="7.0" fill="#00afff"/><rect x="475.0" y="362.6" width="7.0" height="7.0" fill="#00cfff"/><rect x="481.7" y="362.6" width="7.0" height="7.0" fill="#00dfff"/><rect x="488.4" y="362.6" width="7.0" height="7.0" fill="#00efff"/><rect x="495.1" y="362.6" width="7.0" height="7.0" fill="#00dfff"/><rect x="501.8" y="362.6" width="7.0" height="7.0" fill="#00bfff"/><rect x="508.5" y="362.6" width="7.0" height="7.0" fill="#009fff"/><rect x="515.2" y="362.6" width="7.0" height="7.0" fill="#00bfff"/><rect x="521.9" y="362.6" width="7.0" height="7.0" fill="#00dfff"/><rect x="528.6" y="362.6" width="27.1" height="7.0" fill="#00efff"/><rect x="555.4" y="362.6" width="13.7" height="7.0" fill="#00dfff"/><rect x="568.8" y="362.6" width="7.0" height="7.0" fill="#00cfff"/><rect x="575.5" y="362.6" width="7.0" height="7.0" fill="#00dfff"/><rect x="582.2" y="362.6" width="20.4" height="7.0" fill="#00efff"/><rect x="227.1" y="369.3" width="33.8" height="7.0" fill="#0030ff"/><rect x="260.6" y="369.3" width="13.7" height="7.0" fill="#0040ff"/><rect x="274.0" y="369.3" width="7.0" height="7.0" fill="#0050ff"/><rect x="280.7" y="369.3" width="7.0" height="7.0" fill="#0040ff"/><rect x="287.4" y="369.3" width="20.4" height="7.0" fill="#0050ff"/><rect x="307.5" y="369.3" width="13.7" height="7.0" fill="#0060ff"/><rect x="320.9" y="369.3" width="7.0" height="7.0" fill="#0070ff"/><rect x="327.6" y="369.3" width="7.0" height="7.0" fill="#0060ff"/><rect x="334.3" y="369.3" width="20.4" height="7.0" fill="#0070ff"/><rect x="354.4" y="369.3" width="13.7" height="7.0" fill="#0080ff"/><rect x="367.8" y="369.3" width="7.0" height="7.0" fill="#008fff"/><rect x="374.5" y="369.3" width="20.4" height="7.0" fill="#009fff"/><rect x="394.6" y="369.3" width="20.4" height="7.0" fill="#00afff"/><rect x="414.7" y="369.3" width="53.9" height="7.0" fill="#00bfff"/><rect x="468.3" y="369.3" width="7.0" height="7.0" fill="#00cfff"/><rect x="475.0" y="369.3" width="27.1" height="7.0" fill="#00dfff"/><rect x="501.8" y="369.3" width="7.0" height="7.0" fill="#00afff"/><rect x="508.5" y="369.3" width="7.0" height="7.0" fill="#009fff"/><rect x="515.2" y="369.3" width="7.0" height="7.0" fill="#00bfff"/><rect x="521.9" y="369.3" width="27.1" height="7.0" fill="#00efff"/><rect x="548.7" y="369.3" width="7.0" height="7.0" fill="#00dfff"/><rect x="555.4" y="369.3" width="7.0" height="7.0" fill="#00cfff"/><rect x="562.1" y="369.3" width="13.7" height="7.0" fill="#00bfff"/><rect x="575.5" y="369.3" width="7.0" height="7.0" fill="#00cfff"/><rect x="582.2" y="369.3" width="7.0" height="7.0" fill="#00efff"/><rect x="588.9" y="369.3" width="13.7" height="7.0" fill="#00dfff"/><rect x="227.1" y="376.0" width="7.0" height="7.0" fill="#0030ff"/><rect x="233.8" y="376.0" width="7.0" height="7.0" fill="#0040ff"/><rect x="240.5" y="376.0" width="13.7" height="7.0" fill="#0030ff"/><rect x="253.9" y="376.0" width="27.1" height="7.0" fill="#0040ff"/><rect x="280.7" y="376.0" width="20.4" height="7.0" fill="#0050ff"/><rect x="300.8" y="376.0" width="20.4" height="7.0" fill="#0060ff"/><rect x="320.9" y="376.0" width="47.2" height="7.0" fill="#0070ff"/><rect x="367.8" y="376.0" width="7.0" height="7.0" fill="#008fff"/><rect x="374.5" y="376.0" width="7.0" height="7.0" fill="#009fff"/><rect x="381.2" y="376.0" width="27.1" height="7.0" fill="#00afff"/><rect x="408.0" y="376.0" width="60.6" height="7.0" fill="#00bfff"/><rect x="468.3" y="376.0" width="7.0" height="7.0" fill="#00cfff"/><rect x="475.0" y="376.0" width="13.7" height="7.0" fill="#00dfff"/><rect x="488.4" y="376.0" width="7.0" height="7.0" fill="#00cfff"/><rect x="495.1" y="376.0" width="7.0" height="7.0" fill="#00dfff"/><rect x="501.8" y="376.0" width="13.7" height="7.0" fill="#00cfff"/><rect x="515.2" y="376.0" width="13.7" height="7.0" fill="#00efff"/><rect x="528.6" y="376.0" width="7.0" height="7.0" fill="#00ffff"/><rect x="535.3" y="376.0" width="13.7" height="7.0" fill="#00efff"/><rect x="548.7" y="376.0" width="7.0" height="7.0" fill="#00dfff"/><rect x="555.4" y="376.0" width="7.0" height="7.0" fill="#00cfff"/><rect x="562.1" y="376.0" width="20.4" height="7.0" fill="#00bfff"/><rect x="582.2" y="376.0" width="7.0" height="7.0" fill="#00dfff"/><rect x="588.9" y="376.0" width="13.7" height="7.0" fill="#00efff"/><rect x="193.6" y="382.6" width="20.4" height="7.0" fill="#0040ff"/><rect x="213.7" y="382.6" width="7.0" height="7.0" fill="#0030ff"/><rect x="220.4" y="382.6" width="27.1" height="7.0" fill="#0040ff"/><rect x="247.2" y="382.6" width="7.0" height="7.0" fill="#0030ff"/><rect x="253.9" y="382.6" width="27.1" height="7.0" fill="#0040ff"/><rect x="280.7" y="382.6" width="13.7" height="7.0" fill="#0050ff"/><rect x="294.1" y="382.6" width="40.5" height="7.0" fill="#0060ff"/><rect x="334.3" y="382.6" width="13.7" height="7.0" fill="#0070ff"/><rect x="347.7" y="382.6" width="13.7" height="7.0" fill="#0050ff"/><rect x="361.1" y="382.6" width="7.0" height="7.0" fill="#0070ff"/><rect x="367.8" y="382.6" width="7.0" height="7.0" fill="#008fff"/><rect x="374.5" y="382.6" width="20.4" height="7.0" fill="#00afff"/><rect x="394.6" y="382.6" width="20.4" height="7.0" fill="#00bfff"/><rect x="414.7" y="382.6" width="13.7" height="7.0" fill="#00cfff"/><rect x="428.1" y="382.6" width="47.2" height="7.0" fill="#00bfff"/><rect x="475.0" y="382.6" width="20.4" height="7.0" fill="#00cfff"/><rect x="495.1" y="382.6" width="20.4" height="7.0" fill="#00dfff"/><rect x="515.2" y="382.6" width="13.7" height="7.0" fill="#00efff"/><rect x="528.6" y="382.6" width="7.0" height="7.0" fill="#00ffff"/><rect x="535.3" y="382.6" width="20.4" height="7.0" fill="#00efff"/><rect x="555.4" y="382.6" width="7.0" height="7.0" fill="#00dfff"/><rect x="562.1" y="382.6" width="20.4" height="7.0" fill="#00cfff"/><rect x="582.2" y="382.6" width="13.7" height="7.0" fill="#00dfff"/><rect x="595.6" y="382.6" width="7.0" height="7.0" fill="#00efff"/><rect x="193.6" y="389.3" width="7.0" height="7.0" fill="#0030ff"/><rect x="200.3" y="389.3" width="7.0" height="7.0" fill="#0040ff"/><rect x="207.0" y="389.3" width="33.8" height="7.0" fill="#0030ff"/><rect x="240.5" y="389.3" width="40.5" height="7.0" fill="#0040ff"/><rect x="280.7" y="389.3" width="27.1" height="7.0" fill="#0050ff"/><rect x="307.5" y="389.3" width="27.1" height="7.0" fill="#0060ff"/><rect x="334.3" y="389.3" width="13.7" height="7.0" fill="#0070ff"/><rect x="347.7" y="389.3" width="7.0" height="7.0" fill="#0060ff"/><rect x="354.4" y="389.3" width="7.0" height="7.0" fill="#0050ff"/><rect x="361.1" y="389.3" width="7.0" height="7.0" fill="#0070ff"/><rect x="367.8" y="389.3" width="7.0" height="7.0" fill="#009fff"/><rect x="374.5" y="389.3" width="7.0" height="7.0" fill="#00bfff"/><rect x="381.2" y="389.3" width="7.0" height="7.0" fill="#00afff"/><rect x="387.9" y="389.3" width="7.0" height="7.0" fill="#00bfff"/><rect x="394.6" y="389.3" width="33.8" height="7.0" fill="#00cfff"/><rect x="428.1" y="389.3" width="7.0" height="7.0" fill="#00bfff"/><rect x="434.8" y="389.3" width="7.0" height="7.0" fill="#00cfff"/><rect x="441.5" y="389.3" width="27.1" height="7.0" fill="#00bfff"/><rect x="468.3" y="389.3" width="7.0" height="7.0" fill="#00cfff"/><rect x="475.0" y="389.3" width="20.4" height="7.0" fill="#00bfff"/><rect x="495.1" y="389.3" width="13.7" height="7.0" fill="#00cfff"/><rect x="508.5" y="389.3" width="7.0" height="7.0" fill="#00dfff"/><rect x="515.2" y="389.3" width="20.4" height="7.0" fill="#00efff"/><rect x="535.3" y="389.3" width="7.0" height="7.0" fill="#00ffff"/><rect x="542.0" y="389.3" width="7.0" height="7.0" fill="#30ffcf"/><rect x="548.7" y="389.3" width="7.0" height="7.0" fill="#20ffdf"/><rect x="555.4" y="389.3" width="7.0" height="7.0" fill="#00efff"/><rect x="562.1" y="389.3" width="7.0" height="7.0" fill="#00dfff"/><rect x="568.8" y="389.3" width="7.0" height="7.0" fill="#00cfff"/><rect x="575.5" y="389.3" width="7.0" height="7.0" fill="#00dfff"/><rect x="582.2" y="389.3" width="13.7" height="7.0" fill="#00efff"/><rect x="595.6" y="389.3" width="7.0" height="7.0" fill="#00dfff"/><rect x="193.6" y="396.0" width="13.7" height="7.0" fill="#0040ff"/><rect x="207.0" y="396.0" width="13.7" height="7.0" fill="#0030ff"/><rect x="220.4" y="396.0" width="13.7" height="7.0" fill="#0040ff"/><rect x="233.8" y="396.0" width="13.7" height="7.0" fill="#0030ff"/><rect x="247.2" y="396.0" width="33.8" height="7.0" fill="#0040ff"/><rect x="280.7" y="396.0" width="27.1" height="7.0" fill="#0050ff"/><rect x="307.5" y="396.0" width="27.1" height="7.0" fill="#0060ff"/><rect x="334.3" y="396.0" width="20.4" height="7.0" fill="#0070ff"/><rect x="354.4" y="396.0" width="7.0" height="7.0" fill="#0080ff"/><rect x="361.1" y="396.0" width="7.0" height="7.0" fill="#008fff"/><rect x="367.8" y="396.0" width="13.7" height="7.0" fill="#00afff"/><rect x="381.2" y="396.0" width="7.0" height="7.0" fill="#00bfff"/><rect x="387.9" y="396.0" width="7.0" height="7.0" fill="#00afff"/><rect x="394.6" y="396.0" width="7.0" height="7.0" fill="#00bfff"/><rect x="401.3" y="396.0" width="20.4" height="7.0" fill="#00cfff"/><rect x="421.4" y="396.0" width="40.5" height="7.0" fill="#00bfff"/><rect x="461.6" y="396.0" width="7.0" height="7.0" fill="#00cfff"/><rect x="468.3" y="396.0" width="27.1" height="7.0" fill="#00bfff"/><rect x="495.1" y="396.0" width="7.0" height="7.0" fill="#00cfff"/><rect x="501.8" y="396.0" width="20.4" height="7.0" fill="#00dfff"/><rect x="521.9" y="396.0" width="13.7" height="7.0" fill="#00efff"/><rect x="535.3" y="396.0" width="7.0" height="7.0" fill="#20ffdf"/><rect x="542.0" y="396.0" width="7.0" height="7.0" fill="#afff50"/><rect x="548.7" y="396.0" width="7.0" height="7.0" fill="#80ff80"/><rect x="555.4" y="396.0" width="7.0" height="7.0" fill="#00ffff"/><rect x="562.1" y="396.0" width="13.7" height="7.0" fill="#00efff"/><rect x="575.5" y="396.0" width="7.0" height="7.0" fill="#00dfff"/><rect x="582.2" y="396.0" width="7.0" height="7.0" fill="#00efff"/><rect x="588.9" y="396.0" width="13.7" height="7.0" fill="#00dfff"/><rect x="193.6" y="402.6" width="7.0" height="7.0" fill="#0040ff"/><rect x="200.3" y="402.6" width="7.0" height="7.0" fill="#0030ff"/><rect x="207.0" y="402.6" width="7.0" height="7.0" fill="#0040ff"/><rect x="213.7" y="402.6" width="13.7" height="7.0" fill="#0030ff"/><rect x="227.1" y="402.6" width="7.0" height="7.0" fill="#0040ff"/><rect x="233.8" y="402.6" width="13.7" height="7.0" fill="#0030ff"/><rect x="247.2" y="402.6" width="33.8" height="7.0" fill="#0040ff"/><rect x="280.7" y="402.6" width="33.8" height="7.0" fill="#0050ff"/><rect x="314.2" y="402.6" width="20.4" height="7.0" fill="#0060ff"/><rect x="334.3" y="402.6" width="13.7" height="7.0" fill="#0070ff"/><rect x="347.7" y="402.6" width="7.0" height="7.0" fill="#0080ff"/><rect x="354.4" y="402.6" width="7.0" height="7.0" fill="#008fff"/><rect x="361.1" y="402.6" width="7.0" height="7.0" fill="#009fff"/><rect x="367.8" y="402.6" width="13.7" height="7.0" fill="#00afff"/><rect x="381.2" y="402.6" width="7.0" height="7.0" fill="#009fff"/><rect x="387.9" y="402.6" width="7.0" height="7.0" fill="#008fff"/><rect x="394.6" y="402.6" width="7.0" height="7.0" fill="#009fff"/><rect x="401.3" y="402.6" width="7.0" height="7.0" fill="#00cfff"/><rect x="408.0" y="402.6" width="7.0" height="7.0" fill="#00dfff"/><rect x="414.7" y="402.6" width="7.0" height="7.0" fill="#00cfff"/><rect x="421.4" y="402.6" width="27.1" height="7.0" fill="#00bfff"/><rect x="448.2" y="402.6" width="27.1" height="7.0" fill="#00cfff"/><rect x="475.0" y="402.6" width="20.4" height="7.0" fill="#00bfff"/><rect x="495.1" y="402.6" width="13.7" height="7.0" fill="#00cfff"/><rect x="508.5" y="402.6" width="13.7" height="7.0" fill="#00dfff"/><rect x="521.9" y="402.6" width="13.7" height="7.0" fill="#00efff"/><rect x="535.3" y="402.6" width="7.0" height="7.0" fill="#00ffff"/><rect x="542.0" y="402.6" width="7.0" height="7.0" fill="#50ffaf"/><rect x="548.7" y="402.6" width="7.0" height="7.0" fill="#30ffcf"/><rect x="555.4" y="402.6" width="7.0" height="7.0" fill="#00efff"/><rect x="562.1" y="402.6" width="7.0" height="7.0" fill="#00dfff"/><rect x="568.8" y="402.6" width="13.7" height="7.0" fill="#00efff"/><rect x="582.2" y="402.6" width="20.4" height="7.0" fill="#00dfff"/><rect x="193.6" y="409.3" width="13.7" height="7.0" fill="#0040ff"/><rect x="207.0" y="409.3" width="40.5" height="7.0" fill="#0030ff"/><rect x="247.2" y="409.3" width="7.0" height="7.0" fill="#0040ff"/><rect x="253.9" y="409.3" width="7.0" height="7.0" fill="#0030ff"/><rect x="260.6" y="409.3" width="7.0" height="7.0" fill="#0040ff"/><rect x="267.3" y="409.3" width="13.7" height="7.0" fill="#0030ff"/><rect x="280.7" y="409.3" width="33.8" height="7.0" fill="#0050ff"/><rect x="314.2" y="409.3" width="7.0" height="7.0" fill="#0060ff"/><rect x="320.9" y="409.3" width="13.7" height="7.0" fill="#0070ff"/><rect x="334.3" y="409.3" width="20.4" height="7.0" fill="#0080ff"/><rect x="354.4" y="409.3" width="7.0" height="7.0" fill="#008fff"/><rect x="361.1" y="409.3" width="13.7" height="7.0" fill="#009fff"/><rect x="374.5" y="409.3" width="7.0" height="7.0" fill="#00afff"/><rect x="381.2" y="409.3" width="7.0" height="7.0" fill="#008fff"/><rect x="387.9" y="409.3" width="7.0" height="7.0" fill="#0070ff"/><rect x="394.6" y="409.3" width="7.0" height="7.0" fill="#009fff"/><rect x="401.3" y="409.3" width="7.0" height="7.0" fill="#00bfff"/><rect x="408.0" y="409.3" width="7.0" height="7.0" fill="#00cfff"/><rect x="414.7" y="409.3" width="7.0" height="7.0" fill="#00bfff"/><rect x="421.4" y="409.3" width="7.0" height="7.0" fill="#00cfff"/><rect x="428.1" y="409.3" width="13.7" height="7.0" fill="#00bfff"/><rect x="441.5" y="409.3" width="7.0" height="7.0" fill="#00cfff"/><rect x="448.2" y="409.3" width="7.0" height="7.0" fill="#00bfff"/><rect x="454.9" y="409.3" width="7.0" height="7.0" fill="#00cfff"/><rect x="461.6" y="409.3" width="27.1" height="7.0" fill="#00bfff"/><rect x="488.4" y="409.3" width="7.0" height="7.0" fill="#00cfff"/><rect x="548.7" y="409.3" width="7.0" height="7.0" fill="#00efff"/><rect x="555.4" y="409.3" width="7.0" height="7.0" fill="#00dfff"/><rect x="562.1" y="409.3" width="7.0" height="7.0" fill="#00efff"/><rect x="200.3" y="416.0" width="7.0" height="7.0" fill="#0040ff"/><rect x="207.0" y="416.0" width="47.2" height="7.0" fill="#0030ff"/><rect x="253.9" y="416.0" width="13.7" height="7.0" fill="#0040ff"/><rect x="267.3" y="416.0" width="13.7" height="7.0" fill="#0030ff"/><rect x="280.7" y="416.0" width="13.7" height="7.0" fill="#0040ff"/><rect x="294.1" y="416.0" width="20.4" height="7.0" fill="#0050ff"/><rect x="314.2" y="416.0" width="7.0" height="7.0" fill="#0060ff"/><rect x="320.9" y="416.0" width="13.7" height="7.0" fill="#0070ff"/><rect x="334.3" y="416.0" width="13.7" height="7.0" fill="#0080ff"/><rect x="347.7" y="416.0" width="7.0" height="7.0" fill="#008fff"/><rect x="354.4" y="416.0" width="13.7" height="7.0" fill="#009fff"/><rect x="367.8" y="416.0" width="13.7" height="7.0" fill="#00afff"/><rect x="381.2" y="416.0" width="13.7" height="7.0" fill="#009fff"/><rect x="394.6" y="416.0" width="7.0" height="7.0" fill="#00afff"/><rect x="401.3" y="416.0" width="27.1" height="7.0" fill="#00bfff"/><rect x="428.1" y="416.0" width="7.0" height="7.0" fill="#00cfff"/><rect x="434.8" y="416.0" width="7.0" height="7.0" fill="#00bfff"/><rect x="441.5" y="416.0" width="7.0" height="7.0" fill="#00cfff"/><rect x="448.2" y="416.0" width="7.0" height="7.0" fill="#00bfff"/><rect x="454.9" y="416.0" width="27.1" height="7.0" fill="#00cfff"/><rect x="200.3" y="422.6" width="47.2" height="7.0" fill="#0030ff"/><rect x="247.2" y="422.6" width="7.0" height="7.0" fill="#0040ff"/><rect x="253.9" y="422.6" width="40.5" height="7.0" fill="#0030ff"/><rect x="294.1" y="422.6" width="7.0" height="7.0" fill="#0040ff"/><rect x="300.8" y="422.6" width="7.0" height="7.0" fill="#0050ff"/><rect x="307.5" y="422.6" width="7.0" height="7.0" fill="#0060ff"/><rect x="314.2" y="422.6" width="7.0" height="7.0" fill="#0070ff"/><rect x="320.9" y="422.6" width="20.4" height="7.0" fill="#0080ff"/><rect x="341.0" y="422.6" width="7.0" height="7.0" fill="#008fff"/><rect x="347.7" y="422.6" width="13.7" height="7.0" fill="#009fff"/><rect x="361.1" y="422.6" width="7.0" height="7.0" fill="#00afff"/><rect x="367.8" y="422.6" width="13.7" height="7.0" fill="#009fff"/><rect x="381.2" y="422.6" width="7.0" height="7.0" fill="#00afff"/><rect x="387.9" y="422.6" width="47.2" height="7.0" fill="#00bfff"/><rect x="434.8" y="422.6" width="7.0" height="7.0" fill="#00afff"/><rect x="441.5" y="422.6" width="7.0" height="7.0" fill="#00bfff"/><rect x="448.2" y="422.6" width="13.7" height="7.0" fill="#00cfff"/><rect x="461.6" y="422.6" width="7.0" height="7.0" fill="#00dfff"/><rect x="468.3" y="422.6" width="13.7" height="7.0" fill="#00cfff"/><rect x="213.7" y="429.3" width="7.0" height="7.0" fill="#0040ff"/><rect x="220.4" y="429.3" width="47.2" height="7.0" fill="#0030ff"/><rect x="267.3" y="429.3" width="7.0" height="7.0" fill="#0040ff"/><rect x="274.0" y="429.3" width="7.0" height="7.0" fill="#0030ff"/><rect x="280.7" y="429.3" width="7.0" height="7.0" fill="#0000ff"/><rect x="287.4" y="429.3" width="7.0" height="7.0" fill="#0000ef"/><rect x="294.1" y="429.3" width="7.0" height="7.0" fill="#0030ff"/><rect x="300.8" y="429.3" width="7.0" height="7.0" fill="#0050ff"/><rect x="307.5" y="429.3" width="7.0" height="7.0" fill="#0060ff"/><rect x="314.2" y="429.3" width="7.0" height="7.0" fill="#0070ff"/><rect x="320.9" y="429.3" width="20.4" height="7.0" fill="#0080ff"/><rect x="341.0" y="429.3" width="20.4" height="7.0" fill="#009fff"/><rect x="361.1" y="429.3" width="13.7" height="7.0" fill="#00afff"/><rect x="374.5" y="429.3" width="7.0" height="7.0" fill="#009fff"/><rect x="381.2" y="429.3" width="33.8" height="7.0" fill="#00afff"/><rect x="414.7" y="429.3" width="13.7" height="7.0" fill="#00bfff"/><rect x="428.1" y="429.3" width="7.0" height="7.0" fill="#009fff"/><rect x="434.8" y="429.3" width="7.0" height="7.0" fill="#008fff"/><rect x="441.5" y="429.3" width="7.0" height="7.0" fill="#00afff"/><rect x="448.2" y="429.3" width="7.0" height="7.0" fill="#00cfff"/><rect x="454.9" y="429.3" width="27.1" height="7.0" fill="#00dfff"/><rect x="220.4" y="436.0" width="7.0" height="7.0" fill="#0040ff"/><rect x="227.1" y="436.0" width="40.5" height="7.0" fill="#0030ff"/><rect x="267.3" y="436.0" width="7.0" height="7.0" fill="#0040ff"/><rect x="274.0" y="436.0" width="7.0" height="7.0" fill="#0030ff"/><rect x="280.7" y="436.0" width="13.7" height="7.0" fill="#0000ff"/><rect x="294.1" y="436.0" width="7.0" height="7.0" fill="#0040ff"/><rect x="300.8" y="436.0" width="7.0" height="7.0" fill="#0050ff"/><rect x="307.5" y="436.0" width="7.0" height="7.0" fill="#0070ff"/><rect x="314.2" y="436.0" width="13.7" height="7.0" fill="#0080ff"/><rect x="327.6" y="436.0" width="13.7" height="7.0" fill="#008fff"/><rect x="341.0" y="436.0" width="7.0" height="7.0" fill="#009fff"/><rect x="347.7" y="436.0" width="33.8" height="7.0" fill="#00afff"/><rect x="381.2" y="436.0" width="7.0" height="7.0" fill="#009fff"/><rect x="387.9" y="436.0" width="7.0" height="7.0" fill="#00afff"/><rect x="394.6" y="436.0" width="20.4" height="7.0" fill="#009fff"/><rect x="414.7" y="436.0" width="27.1" height="7.0" fill="#00afff"/><rect x="441.5" y="436.0" width="7.0" height="7.0" fill="#00bfff"/><rect x="448.2" y="436.0" width="7.0" height="7.0" fill="#00cfff"/><rect x="454.9" y="436.0" width="27.1" height="7.0" fill="#00dfff"/><rect x="481.7" y="436.0" width="13.7" height="7.0" fill="#00cfff"/><rect x="220.4" y="442.7" width="13.7" height="7.0" fill="#0040ff"/><rect x="233.8" y="442.7" width="53.9" height="7.0" fill="#0030ff"/><rect x="287.4" y="442.7" width="7.0" height="7.0" fill="#0040ff"/><rect x="294.1" y="442.7" width="7.0" height="7.0" fill="#0050ff"/><rect x="300.8" y="442.7" width="13.7" height="7.0" fill="#0060ff"/><rect x="314.2" y="442.7" width="13.7" height="7.0" fill="#0080ff"/><rect x="327.6" y="442.7" width="20.4" height="7.0" fill="#008fff"/><rect x="347.7" y="442.7" width="33.8" height="7.0" fill="#00afff"/><rect x="381.2" y="442.7" width="13.7" height="7.0" fill="#009fff"/><rect x="394.6" y="442.7" width="7.0" height="7.0" fill="#008fff"/><rect x="401.3" y="442.7" width="13.7" height="7.0" fill="#0080ff"/><rect x="414.7" y="442.7" width="7.0" height="7.0" fill="#009fff"/><rect x="421.4" y="442.7" width="13.7" height="7.0" fill="#00afff"/><rect x="434.8" y="442.7" width="13.7" height="7.0" fill="#00bfff"/><rect x="448.2" y="442.7" width="7.0" height="7.0" fill="#00cfff"/><rect x="454.9" y="442.7" width="40.5" height="7.0" fill="#00dfff"/><rect x="220.4" y="449.3" width="7.0" height="7.0" fill="#0040ff"/><rect x="227.1" y="449.3" width="20.4" height="7.0" fill="#0030ff"/><rect x="247.2" y="449.3" width="7.0" height="7.0" fill="#0020ff"/><rect x="253.9" y="449.3" width="20.4" height="7.0" fill="#0030ff"/><rect x="274.0" y="449.3" width="13.7" height="7.0" fill="#0040ff"/><rect x="287.4" y="449.3" width="13.7" height="7.0" fill="#0060ff"/><rect x="300.8" y="449.3" width="7.0" height="7.0" fill="#0070ff"/><rect x="307.5" y="449.3" width="7.0" height="7.0" fill="#0060ff"/><rect x="314.2" y="449.3" width="7.0" height="7.0" fill="#0080ff"/><rect x="320.9" y="449.3" width="13.7" height="7.0" fill="#008fff"/><rect x="334.3" y="449.3" width="27.1" height="7.0" fill="#009fff"/><rect x="361.1" y="449.3" width="20.4" height="7.0" fill="#00afff"/><rect x="381.2" y="449.3" width="7.0" height="7.0" fill="#009fff"/><rect x="387.9" y="449.3" width="7.0" height="7.0" fill="#008fff"/><rect x="394.6" y="449.3" width="7.0" height="7.0" fill="#0080ff"/><rect x="401.3" y="449.3" width="7.0" height="7.0" fill="#0030ff"/><rect x="408.0" y="449.3" width="7.0" height="7.0" fill="#0010ff"/><rect x="414.7" y="449.3" width="7.0" height="7.0" fill="#0080ff"/><rect x="421.4" y="449.3" width="7.0" height="7.0" fill="#009fff"/><rect x="428.1" y="449.3" width="13.7" height="7.0" fill="#00afff"/><rect x="441.5" y="449.3" width="7.0" height="7.0" fill="#00bfff"/><rect x="448.2" y="449.3" width="13.7" height="7.0" fill="#00cfff"/><rect x="461.6" y="449.3" width="7.0" height="7.0" fill="#00dfff"/><rect x="468.3" y="449.3" width="20.4" height="7.0" fill="#00efff"/><rect x="488.4" y="449.3" width="7.0" height="7.0" fill="#00dfff"/><rect x="233.8" y="456.0" width="7.0" height="7.0" fill="#0040ff"/><rect x="240.5" y="456.0" width="7.0" height="7.0" fill="#0020ff"/><rect x="247.2" y="456.0" width="7.0" height="7.0" fill="#0000ff"/><rect x="253.9" y="456.0" width="7.0" height="7.0" fill="#0010ff"/><rect x="260.6" y="456.0" width="7.0" height="7.0" fill="#0030ff"/><rect x="267.3" y="456.0" width="13.7" height="7.0" fill="#0040ff"/><rect x="280.7" y="456.0" width="13.7" height="7.0" fill="#0050ff"/><rect x="294.1" y="456.0" width="7.0" height="7.0" fill="#0060ff"/><rect x="300.8" y="456.0" width="7.0" height="7.0" fill="#0070ff"/><rect x="307.5" y="456.0" width="13.7" height="7.0" fill="#0080ff"/><rect x="320.9" y="456.0" width="7.0" height="7.0" fill="#008fff"/><rect x="327.6" y="456.0" width="13.7" height="7.0" fill="#009fff"/><rect x="341.0" y="456.0" width="33.8" height="7.0" fill="#00afff"/><rect x="374.5" y="456.0" width="13.7" height="7.0" fill="#009fff"/><rect x="387.9" y="456.0" width="7.0" height="7.0" fill="#008fff"/><rect x="394.6" y="456.0" width="7.0" height="7.0" fill="#0080ff"/><rect x="401.3" y="456.0" width="7.0" height="7.0" fill="#0040ff"/><rect x="408.0" y="456.0" width="7.0" height="7.0" fill="#0030ff"/><rect x="414.7" y="456.0" width="7.0" height="7.0" fill="#0080ff"/><rect x="421.4" y="456.0" width="13.7" height="7.0" fill="#009fff"/><rect x="434.8" y="456.0" width="13.7" height="7.0" fill="#00afff"/><rect x="448.2" y="456.0" width="7.0" height="7.0" fill="#00bfff"/><rect x="454.9" y="456.0" width="7.0" height="7.0" fill="#00cfff"/><rect x="461.6" y="456.0" width="7.0" height="7.0" fill="#00dfff"/><rect x="468.3" y="456.0" width="13.7" height="7.0" fill="#00ffff"/><rect x="481.7" y="456.0" width="13.7" height="7.0" fill="#00efff"/><rect x="233.8" y="462.7" width="7.0" height="7.0" fill="#0040ff"/><rect x="240.5" y="462.7" width="7.0" height="7.0" fill="#0030ff"/><rect x="247.2" y="462.7" width="7.0" height="7.0" fill="#0010ff"/><rect x="253.9" y="462.7" width="7.0" height="7.0" fill="#0020ff"/><rect x="260.6" y="462.7" width="13.7" height="7.0" fill="#0040ff"/><rect x="274.0" y="462.7" width="7.0" height="7.0" fill="#0050ff"/><rect x="280.7" y="462.7" width="20.4" height="7.0" fill="#0060ff"/><rect x="300.8" y="462.7" width="13.7" height="7.0" fill="#0080ff"/><rect x="314.2" y="462.7" width="7.0" height="7.0" fill="#008fff"/><rect x="320.9" y="462.7" width="7.0" height="7.0" fill="#0080ff"/><rect x="327.6" y="462.7" width="7.0" height="7.0" fill="#009fff"/><rect x="334.3" y="462.7" width="27.1" height="7.0" fill="#00afff"/><rect x="361.1" y="462.7" width="7.0" height="7.0" fill="#00bfff"/><rect x="367.8" y="462.7" width="13.7" height="7.0" fill="#00afff"/><rect x="381.2" y="462.7" width="7.0" height="7.0" fill="#008fff"/><rect x="387.9" y="462.7" width="13.7" height="7.0" fill="#0080ff"/><rect x="401.3" y="462.7" width="7.0" height="7.0" fill="#0070ff"/><rect x="408.0" y="462.7" width="7.0" height="7.0" fill="#0080ff"/><rect x="414.7" y="462.7" width="7.0" height="7.0" fill="#008fff"/><rect x="421.4" y="462.7" width="7.0" height="7.0" fill="#009fff"/><rect x="428.1" y="462.7" width="7.0" height="7.0" fill="#00afff"/><rect x="434.8" y="462.7" width="13.7" height="7.0" fill="#009fff"/><rect x="448.2" y="462.7" width="7.0" height="7.0" fill="#00bfff"/><rect x="454.9" y="462.7" width="7.0" height="7.0" fill="#00cfff"/><rect x="461.6" y="462.7" width="7.0" height="7.0" fill="#00dfff"/><rect x="468.3" y="462.7" width="7.0" height="7.0" fill="#00ffff"/><rect x="475.0" y="462.7" width="7.0" height="7.0" fill="#00efff"/><rect x="481.7" y="462.7" width="7.0" height="7.0" fill="#00ffff"/><rect x="488.4" y="462.7" width="7.0" height="7.0" fill="#00efff"/><rect x="240.5" y="469.3" width="20.4" height="7.0" fill="#0040ff"/><rect x="260.6" y="469.3" width="20.4" height="7.0" fill="#0050ff"/><rect x="280.7" y="469.3" width="13.7" height="7.0" fill="#0060ff"/><rect x="294.1" y="469.3" width="7.0" height="7.0" fill="#0070ff"/><rect x="300.8" y="469.3" width="13.7" height="7.0" fill="#0080ff"/><rect x="314.2" y="469.3" width="13.7" height="7.0" fill="#008fff"/><rect x="327.6" y="469.3" width="7.0" height="7.0" fill="#009fff"/><rect x="334.3" y="469.3" width="7.0" height="7.0" fill="#00afff"/><rect x="341.0" y="469.3" width="7.0" height="7.0" fill="#00bfff"/><rect x="347.7" y="469.3" width="7.0" height="7.0" fill="#00afff"/><rect x="354.4" y="469.3" width="27.1" height="7.0" fill="#00bfff"/><rect x="381.2" y="469.3" width="7.0" height="7.0" fill="#00afff"/><rect x="387.9" y="469.3" width="7.0" height="7.0" fill="#008fff"/><rect x="394.6" y="469.3" width="7.0" height="7.0" fill="#0080ff"/><rect x="401.3" y="469.3" width="7.0" height="7.0" fill="#008fff"/><rect x="408.0" y="469.3" width="13.7" height="7.0" fill="#009fff"/><rect x="421.4" y="469.3" width="27.1" height="7.0" fill="#00afff"/><rect x="448.2" y="469.3" width="13.7" height="7.0" fill="#00bfff"/><rect x="461.6" y="469.3" width="7.0" height="7.0" fill="#00dfff"/><rect x="468.3" y="469.3" width="7.0" height="7.0" fill="#00efff"/><rect x="475.0" y="469.3" width="7.0" height="7.0" fill="#00ffff"/><rect x="481.7" y="469.3" width="13.7" height="7.0" fill="#00efff"/><rect x="253.9" y="476.0" width="27.1" height="7.0" fill="#0050ff"/><rect x="280.7" y="476.0" width="7.0" height="7.0" fill="#0060ff"/><rect x="287.4" y="476.0" width="13.7" height="7.0" fill="#0070ff"/><rect x="300.8" y="476.0" width="7.0" height="7.0" fill="#0080ff"/><rect x="307.5" y="476.0" width="13.7" height="7.0" fill="#008fff"/><rect x="320.9" y="476.0" width="7.0" height="7.0" fill="#009fff"/><rect x="327.6" y="476.0" width="7.0" height="7.0" fill="#00afff"/><rect x="334.3" y="476.0" width="40.5" height="7.0" fill="#00bfff"/><rect x="374.5" y="476.0" width="7.0" height="7.0" fill="#00cfff"/><rect x="381.2" y="476.0" width="7.0" height="7.0" fill="#009fff"/><rect x="387.9" y="476.0" width="13.7" height="7.0" fill="#0070ff"/><rect x="401.3" y="476.0" width="7.0" height="7.0" fill="#008fff"/><rect x="408.0" y="476.0" width="20.4" height="7.0" fill="#009fff"/><rect x="428.1" y="476.0" width="7.0" height="7.0" fill="#00afff"/><rect x="434.8" y="476.0" width="7.0" height="7.0" fill="#009fff"/><rect x="441.5" y="476.0" width="7.0" height="7.0" fill="#00afff"/><rect x="448.2" y="476.0" width="13.7" height="7.0" fill="#00bfff"/><rect x="461.6" y="476.0" width="13.7" height="7.0" fill="#00cfff"/><rect x="475.0" y="476.0" width="7.0" height="7.0" fill="#00dfff"/><rect x="267.3" y="482.7" width="13.7" height="7.0" fill="#0060ff"/><rect x="280.7" y="482.7" width="20.4" height="7.0" fill="#0070ff"/><rect x="300.8" y="482.7" width="7.0" height="7.0" fill="#0080ff"/><rect x="307.5" y="482.7" width="13.7" height="7.0" fill="#008fff"/><rect x="320.9" y="482.7" width="7.0" height="7.0" fill="#009fff"/><rect x="327.6" y="482.7" width="13.7" height="7.0" fill="#00afff"/><rect x="341.0" y="482.7" width="27.1" height="7.0" fill="#00bfff"/><rect x="367.8" y="482.7" width="7.0" height="7.0" fill="#00cfff"/><rect x="374.5" y="482.7" width="7.0" height="7.0" fill="#00bfff"/><rect x="381.2" y="482.7" width="7.0" height="7.0" fill="#009fff"/><rect x="387.9" y="482.7" width="13.7" height="7.0" fill="#0040ff"/><rect x="401.3" y="482.7" width="7.0" height="7.0" fill="#0080ff"/><rect x="408.0" y="482.7" width="33.8" height="7.0" fill="#009fff"/><rect x="454.9" y="482.7" width="20.4" height="7.0" fill="#00bfff"/><rect x="475.0" y="482.7" width="7.0" height="7.0" fill="#00cfff"/><rect x="267.3" y="489.3" width="7.0" height="7.0" fill="#0070ff"/><rect x="274.0" y="489.3" width="7.0" height="7.0" fill="#0060ff"/><rect x="280.7" y="489.3" width="7.0" height="7.0" fill="#0070ff"/><rect x="287.4" y="489.3" width="7.0" height="7.0" fill="#0080ff"/><rect x="314.2" y="489.3" width="7.0" height="7.0" fill="#008fff"/><rect x="320.9" y="489.3" width="13.7" height="7.0" fill="#009fff"/><rect x="334.3" y="489.3" width="20.4" height="7.0" fill="#00afff"/><rect x="354.4" y="489.3" width="27.1" height="7.0" fill="#00bfff"/><rect x="381.2" y="489.3" width="7.0" height="7.0" fill="#009fff"/><rect x="387.9" y="489.3" width="7.0" height="7.0" fill="#0060ff"/><rect x="394.6" y="489.3" width="7.0" height="7.0" fill="#0050ff"/><rect x="401.3" y="489.3" width="7.0" height="7.0" fill="#0080ff"/><rect x="408.0" y="489.3" width="13.7" height="7.0" fill="#008fff"/><rect x="421.4" y="489.3" width="7.0" height="7.0" fill="#0080ff"/><rect x="428.1" y="489.3" width="7.0" height="7.0" fill="#008fff"/><rect x="434.8" y="489.3" width="7.0" height="7.0" fill="#009fff"/><rect x="454.9" y="489.3" width="13.7" height="7.0" fill="#00bfff"/><rect x="468.3" y="489.3" width="13.7" height="7.0" fill="#00cfff"/><rect x="341.0" y="496.0" width="7.0" height="7.0" fill="#00afff"/><rect x="347.7" y="496.0" width="20.4" height="7.0" fill="#00bfff"/><rect x="381.2" y="496.0" width="7.0" height="7.0" fill="#009fff"/><rect x="387.9" y="496.0" width="20.4" height="7.0" fill="#008fff"/><rect x="408.0" y="496.0" width="7.0" height="7.0" fill="#0080ff"/><rect x="414.7" y="496.0" width="7.0" height="7.0" fill="#008fff"/><rect x="421.4" y="496.0" width="7.0" height="7.0" fill="#0080ff"/><rect x="428.1" y="496.0" width="7.0" height="7.0" fill="#008fff"/><rect x="454.9" y="496.0" width="13.7" height="7.0" fill="#00bfff"/><rect x="468.3" y="496.0" width="13.7" height="7.0" fill="#00cfff"/><rect x="401.3" y="502.7" width="20.4" height="7.0" fill="#008fff"/><rect x="421.4" y="502.7" width="13.7" height="7.0" fill="#0080ff"/><rect x="401.3" y="509.4" width="20.4" height="7.0" fill="#008fff"/><rect x="421.4" y="509.4" width="7.0" height="7.0" fill="#0080ff"/><rect x="428.1" y="509.4" width="7.0" height="7.0" fill="#008fff"/><rect x="401.3" y="516.0" width="13.7" height="7.0" fill="#008fff"/><rect x="414.7" y="516.0" width="7.0" height="7.0" fill="#0080ff"/><rect x="421.4" y="516.0" width="7.0" height="7.0" fill="#008fff"/></g><g shape-rendering="crispEdges" clip-path="url(#axclip)"><rect x="184.6" y="52.0" width="13.5" height="6.8" fill="#0010ff"/><rect x="198.3" y="62.0" width="13.3" height="20.0" fill="#0040ff"/><rect x="205.1" y="58.8" width="13.0" height="20.0" fill="#0040ff"/><rect x="218.1" y="52.0" width="13.3" height="3.5" fill="#009fff"/><rect x="233.9" y="52.0" width="13.3" height="16.8" fill="#0050ff"/><rect x="247.2" y="68.8" width="13.0" height="20.0" fill="#0050ff"/><rect x="250.2" y="72.0" width="19.3" height="20.0" fill="#0060ff"/><rect x="262.7" y="72.0" width="6.8" height="20.0" fill="#0080ff"/><rect x="270.2" y="52.0" width="13.0" height="16.8" fill="#0080ff"/><rect x="283.2" y="68.8" width="13.0" height="20.0" fill="#00afff"/><rect x="198.3" y="98.8" width="13.3" height="20.0" fill="#0030ff"/><rect x="231.4" y="95.6" width="13.3" height="20.0" fill="#0050ff"/><rect x="260.2" y="95.6" width="13.8" height="20.0" fill="#0080ff"/><rect x="270.2" y="92.6" width="13.0" height="19.5" fill="#009fff"/><rect x="211.6" y="122.1" width="19.8" height="20.0" fill="#0070ff"/><rect x="418.6" y="55.5" width="13.5" height="20.0" fill="#30ffcf"/><rect x="403.3" y="89.3" width="13.3" height="19.5" fill="#40ffbf"/><rect x="378.5" y="112.6" width="13.5" height="20.0" fill="#40ffbf"/><rect x="387.8" y="112.6" width="13.3" height="20.0" fill="#30ffcf"/><rect x="434.6" y="129.4" width="13.3" height="19.5" fill="#60ff9f"/><rect x="383.1" y="146.1" width="13.5" height="19.5" fill="#10ffef"/><rect x="412.1" y="149.4" width="13.3" height="19.5" fill="#30ffcf"/><rect x="361.0" y="172.7" width="13.5" height="20.0" fill="#00ffff"/><rect x="370.3" y="172.7" width="12.8" height="20.0" fill="#00dfff"/><rect x="403.3" y="169.4" width="13.3" height="20.0" fill="#10ffef"/><rect x="414.1" y="189.4" width="13.8" height="19.5" fill="#30ffcf"/><rect x="436.6" y="192.7" width="13.8" height="20.0" fill="#10ffef"/><rect x="617.1" y="75.8" width="13.3" height="19.8" fill="#80ff80"/><rect x="632.9" y="92.6" width="13.3" height="19.5" fill="#70ff8f"/><rect x="601.6" y="98.8" width="13.5" height="20.0" fill="#80ff80"/><rect x="579.3" y="122.6" width="13.3" height="20.0" fill="#afff50"/><rect x="623.9" y="139.4" width="13.3" height="19.5" fill="#70ff8f"/><rect x="606.1" y="162.6" width="13.3" height="20.0" fill="#8fff70"/><rect x="635.1" y="169.4" width="13.3" height="20.0" fill="#bfff40"/><rect x="510.1" y="273.0" width="13.3" height="20.0" fill="#10ffef"/><rect x="528.1" y="280.1" width="13.3" height="19.5" fill="#30ffcf"/><rect x="548.1" y="286.3" width="13.3" height="20.0" fill="#10ffef"/><rect x="566.4" y="293.1" width="12.5" height="19.5" fill="#00dfff"/><rect x="619.7" y="286.3" width="13.0" height="20.0" fill="#70ff8f"/><rect x="657.3" y="280.1" width="5.0" height="19.5" fill="#80ff80"/><rect x="595.2" y="313.1" width="13.0" height="19.5" fill="#40ffbf"/><rect x="615.2" y="336.9" width="13.0" height="19.5" fill="#70ff8f"/><rect x="642.2" y="333.1" width="13.0" height="20.0" fill="#60ff9f"/><rect x="626.5" y="350.1" width="13.3" height="19.5" fill="#00efff"/><rect x="651.0" y="356.4" width="11.3" height="20.0" fill="#60ff9f"/><rect x="619.7" y="366.4" width="13.0" height="20.0" fill="#00ffff"/><rect x="597.7" y="362.7" width="12.5" height="20.0" fill="#00ffff"/><rect x="639.7" y="390.2" width="13.0" height="20.0" fill="#8fff70"/><rect x="588.2" y="340.1" width="13.3" height="19.5" fill="#00dfff"/><rect x="581.9" y="383.8" width="15.0" height="18.8" fill="#00ffff"/><rect x="592.7" y="407.0" width="13.3" height="19.3" fill="#00ffff"/><rect x="586.4" y="413.8" width="13.3" height="19.3" fill="#00ffff"/><rect x="563.9" y="413.8" width="13.0" height="18.8" fill="#00afff"/><rect x="617.2" y="423.8" width="13.0" height="19.3" fill="#30ffcf"/><rect x="592.7" y="436.3" width="13.3" height="20.0" fill="#00ffff"/><rect x="563.9" y="443.3" width="13.0" height="19.8" fill="#00afff"/><rect x="521.3" y="433.3" width="13.3" height="20.0" fill="#00dfff"/><rect x="488.0" y="437.1" width="13.3" height="19.3" fill="#009fff"/><rect x="501.3" y="407.0" width="24.3" height="19.3" fill="#00bfff"/><rect x="532.6" y="402.5" width="13.8" height="20.0" fill="#00cfff"/><rect x="463.8" y="413.8" width="13.3" height="20.0" fill="#00dfff"/><rect x="474.5" y="440.1" width="13.0" height="20.0" fill="#00dfff"/><rect x="510.1" y="467.1" width="13.3" height="19.8" fill="#00afff"/><rect x="492.5" y="483.9" width="13.3" height="20.0" fill="#0050ff"/><rect x="488.0" y="493.2" width="12.8" height="20.0" fill="#0050ff"/><rect x="519.3" y="493.9" width="13.3" height="19.3" fill="#00bfff"/><rect x="472.5" y="527.2" width="13.0" height="19.3" fill="#009fff"/><rect x="460.0" y="473.9" width="12.0" height="18.8" fill="#00dfff"/><rect x="639.7" y="390.5" width="13.5" height="19.0" fill="#8fff70"/><rect x="648.5" y="413.8" width="13.0" height="19.3" fill="#70ff8f"/><rect x="651.5" y="356.2" width="10.0" height="20.0" fill="#70ff8f"/><rect x="618.9" y="366.2" width="13.8" height="20.0" fill="#00ffff"/><rect x="597.2" y="362.5" width="13.0" height="20.0" fill="#00ffff"/><rect x="546.4" y="393.8" width="8.8" height="18.8" fill="#bfff40"/><rect x="242.6" y="487.1" width="13.3" height="19.5" fill="#0060ff"/><rect x="260.6" y="490.1" width="13.3" height="19.5" fill="#0080ff"/><rect x="472.7" y="527.1" width="13.0" height="19.3" fill="#009fff"/><rect x="521.5" y="432.5" width="13.3" height="20.0" fill="#00dfff"/><rect x="487.7" y="436.2" width="13.3" height="20.0" fill="#00bfff"/><rect x="487.9" y="437.1" width="13.0" height="19.3" fill="#008fff"/><rect x="463.0" y="232.8" width="13.7" height="20.1" fill="#30ffcf"/><rect x="476.7" y="259.6" width="10.9" height="20.1" fill="#30ffcf"/></g>
<path d="M218.5 582.5v-5.4M218.5 49.5v5.4M307.5 582.5v-5.4M307.5 49.5v5.4M396.5 582.5v-5.4M396.5 49.5v5.4M485.5 582.5v-5.4M485.5 49.5v5.4M574.5 582.5v-5.4M574.5 49.5v5.4M128.5 517.5h6.5M664.5 517.5h-6.5M128.5 450.5h6.5M664.5 450.5h-6.5M128.5 383.5h6.5M664.5 383.5h-6.5M128.5 316.5h6.5M664.5 316.5h-6.5M128.5 249.5h6.5M664.5 249.5h-6.5M128.5 182.5h6.5M664.5 182.5h-6.5M128.5 115.5h6.5M664.5 115.5h-6.5" stroke="#262626" stroke-width="1" fill="none" shape-rendering="crispEdges"/>
<rect x="128.5" y="49.5" width="536.0" height="533.0" fill="none" stroke="#262626" stroke-width="1" shape-rendering="crispEdges"/>
<g clip-path="url(#axclip)"><path d="M128.0,214.5 230.0,216.0 262.0,217.0 275.0,218.0 300.0,219.0 330.0,219.5 380.0,219.5 440.0,219.0 450.0,217.5 463.0,216.0 480.0,215.8 490.0,214.5 510.0,213.5 519.0,212.8 540.0,212.7 580.0,212.8 606.0,213.0 612.0,215.0 630.0,215.8 665.0,217.5" fill="none" stroke="#000" stroke-width="2" stroke-dasharray="8 8" stroke-dashoffset="-1.3"/><path d="M157.5,49.5 161.3,53.8 162.6,58.8 162.1,62.0 165.8,65.0 167.6,72.5 168.8,82.5 170.1,91.3 167.6,98.8 171.3,103.1 177.1,105.1 182.6,98.8 187.6,93.8 191.3,90.6 195.1,93.8 197.6,101.3 199.6,110.6 200.6,120.1 203.9,131.4M201.4,130.0 203.9,136.3 205.8,142.6 206.6,148.9 205.1,154.5 205.8,160.2 207.0,166.5 206.1,171.5 204.9,175.3 204.5,182.8 204.1,189.1M211.4,185.2 210.6,175.2 212.6,165.2 216.4,152.6 218.1,143.9 219.6,138.1 222.6,136.4 225.1,138.9 226.4,144.6 230.1,147.1 235.1,146.4 240.2,152.6 243.9,158.9 246.4,166.4 250.2,172.7 256.4,175.2 260.2,180.2 263.2,182.7 262.7,190.2 263.2,198.9 267.7,193.9 272.7,190.2 277.2,185.2 278.2,177.7 285.2,175.2 292.7,168.9 299.0,161.4 300.7,150.1 301.5,135.1 299.7,120.1 297.2,110.6 292.7,101.3 287.7,93.8 281.5,85.1 276.4,76.3 272.2,70.0 268.9,63.8 268.9,56.3 271.4,49.5M307.7,48.8 314.7,48.8 316.5,52.5 314.0,62.5 310.2,68.8 304.0,72.0 298.2,70.0 295.2,65.0 295.2,58.8 299.0,56.3 304.0,51.3ZM401.6,70.0 404.6,68.0 410.3,70.0 414.1,71.3 417.1,69.3 417.8,77.5 419.1,88.8 416.6,96.3 412.8,103.1 410.3,110.6 411.6,120.1 413.6,128.9 417.8,130.6 420.4,127.1 425.4,128.9 430.4,133.1 432.9,138.9 433.6,143.9 429.6,141.4 426.6,135.1 422.9,133.9 420.4,132.6 418.6,135.1 420.4,140.1 416.1,136.4 412.8,131.4 409.1,132.6 405.3,131.4 403.6,125.1 404.8,120.1 400.3,113.1 397.1,112.1 396.6,105.1 394.6,100.1 398.3,93.8 399.1,82.5ZM401.1,138.1 404.6,136.4 409.1,139.6 411.6,145.1 410.3,150.1 407.1,153.1 403.6,147.6 401.1,141.4ZM392.1,166.4 393.6,171.4 391.6,178.9 386.6,186.4 380.3,195.2 374.0,202.7 371.5,203.2 374.0,197.7 380.3,190.2 385.3,182.7 389.1,173.9 391.1,167.7ZM435.4,151.4 438.6,149.6 444.1,148.9 446.1,155.1 447.1,165.2 444.1,168.9 442.1,173.9 442.9,179.7 440.4,180.2 438.6,172.7 436.1,171.4 435.4,165.2 438.6,161.4 437.1,155.1ZM413.3,159.6 416.6,158.1 419.6,160.6 421.6,162.6 424.1,162.1 425.4,167.2 427.9,168.2 428.6,173.2 431.6,175.2 431.1,169.7 432.9,168.2 433.6,175.2 435.4,181.4 433.6,183.9 435.4,187.7 432.1,185.2 429.6,186.4 426.6,188.2 425.4,192.7 422.9,193.9 419.6,188.9 417.8,183.9 419.6,180.2 421.6,177.7 417.8,176.4 415.3,175.2 413.6,169.7 414.8,164.6ZM204.0,186.7 203.3,191.7 203.0,200.4 204.5,205.4 208.3,208.6 210.3,214.3 215.4,221.0 218.7,226.9 221.2,235.3 222.4,243.7 223.8,252.0 223.2,257.1 226.3,262.9 228.8,270.5 232.1,278.0 237.2,283.9 243.9,292.3 247.2,295.0 250.6,297.0 253.6,297.6 255.9,296.5 255.9,295.0 255.3,290.6 252.6,282.2 250.6,272.2 250.1,260.4 249.2,252.0 246.4,244.5 241.4,237.0 235.5,229.4 228.8,222.7 223.8,214.3 221.2,206.0 217.9,200.1 217.0,194.2 212.0,191.7 210.3,185.0M207.8,295.0 207.0,291.4 203.6,286.4 198.6,282.2 196.1,278.0 192.7,272.2 190.2,267.1 185.2,262.1 181.8,257.1 178.5,251.2 176.5,245.3 176.8,241.2 179.3,240.3 182.7,242.0 185.2,244.5 190.2,245.0 195.3,246.2 198.6,249.5 201.1,253.7 203.6,258.8 207.8,264.6 212.9,270.5 217.0,274.7 220.4,279.7 223.8,284.7 227.1,286.4 229.6,288.9 233.8,293.1 235.5,295.0M181.0,278.9 182.7,278.0 185.2,281.4 186.0,284.2 184.4,284.2 181.8,281.4ZM207.0,295.0 209.0,301.7 210.7,308.4 214.5,313.4 217.9,317.6 220.4,323.5 222.9,330.2 224.6,336.9 226.8,343.6 229.6,349.5 233.0,354.5 237.2,360.4 240.5,366.2 243.9,371.3 248.1,376.3 252.2,381.3M237.2,295.0 241.4,298.4 244.7,301.7 245.5,306.7 248.9,310.1 251.4,315.1 250.6,320.1 249.7,325.2 252.2,329.4 257.3,330.2 259.0,334.4 260.6,339.4 263.1,344.4 265.7,347.8 268.2,345.3 270.7,350.3 271.5,357.0 271.0,365.4 270.7,375.5 270.5,380.5M265.7,342.4 267.3,338.1 271.0,336.4 273.2,339.4 274.0,345.3 275.0,350.0 278.4,351.3 278.2,355.3 275.2,355.7 273.4,352.8 270.7,351.7 268.5,348.6 266.8,345.3ZM287.1,351.2 291.6,350.3 292.5,353.7 290.5,358.4 286.6,357.9 286.1,353.7ZM194.4,297.0 196.1,296.3 198.6,300.9 200.3,306.4 198.9,307.6 196.6,303.4ZM207.0,329.4 208.7,328.2 211.2,332.7 212.4,338.6 210.7,339.6 208.3,335.2ZM246.4,295.0 248.9,297.0 254.8,297.5 255.9,295.0M252.1,381.3 254.6,386.3 258.9,391.3 263.9,390.0 267.6,392.0 270.2,385.0 270.7,380.0M267.5,404.5 269.4,400.1 271.9,395.1 275.1,396.1 278.9,395.7 282.6,394.4 286.4,396.9 290.2,398.8 293.7,400.7 295.2,404.5 299.0,405.7 304.0,407.0 307.8,407.6 311.5,407.6 313.4,403.9 315.3,401.3 319.1,403.9 324.1,405.7 328.5,407.6 332.3,409.5 331.7,412.0 332.3,415.8 335.4,417.9 338.6,418.7 342.3,417.9 346.7,419.2 347.1,424.0 347.0,430.5 344.5,430.0 340.5,427.7 336.7,425.9 332.9,426.5 330.4,427.5 326.6,425.9 322.9,425.5 319.1,425.0 315.3,424.0 311.5,422.7 308.4,420.2 305.3,418.7 301.5,418.3 297.1,419.2 293.3,419.6 289.5,418.3 285.1,415.8 281.4,414.5 277.0,413.3 275.1,410.1 271.9,408.3 269.4,406.4ZM332.9,409.5 336.7,408.3 341.1,407.9 342.7,408.9 341.7,411.1 338.6,412.4 334.8,412.0ZM348.6,428.4 351.1,426.2 354.9,425.9 357.4,428.4 355.5,431.5 353.3,433.0 350.5,430.9ZM296.0,294.0 303.5,290.6 317.8,292.3 320.3,283.9 322.0,278.0 331.2,275.5 336.2,268.0 341.3,258.8 349.6,251.2 353.8,249.5 355.5,243.7 359.7,240.3 363.0,233.6 369.8,223.6 373.1,228.6 377.3,232.8 378.1,237.0 383.2,241.2 389.5,247.0 381.5,251.2 384.8,253.7 379.8,256.2 379.0,259.6 377.3,265.5 376.1,272.2 377.3,278.9 379.0,285.6 377.3,289.8 379.8,295.0M296.0,293.7 296.8,295.0 297.7,301.7 299.4,310.1 301.9,320.1 306.1,326.8 308.6,335.2 309.4,345.3 310.2,353.7 316.1,355.3 322.8,354.5 323.7,362.0 330.4,360.4 335.4,358.4 340.4,361.2 344.6,360.7 348.8,365.4 350.0,370.1 355.5,366.2 362.2,362.0 364.7,353.7 366.1,345.3 363.9,340.3 366.4,333.6 371.4,326.0 373.9,316.8 376.5,307.6 381.5,305.1 386.5,302.5 384.0,298.4 382.3,295.0 380.6,293.7M405.0,298.7 403.3,304.7 396.2,306.7 395.2,313.4 395.2,321.8 393.2,328.5 390.7,336.1 389.0,345.3 386.8,352.8 387.4,362.0 392.4,365.4 393.2,373.8 392.4,382.2 392.4,390.2 396.6,390.9 399.1,388.9 400.3,382.2 401.1,373.8 399.4,365.4 398.6,358.7 400.8,353.7 404.1,352.5 406.1,356.2 405.0,362.0 407.5,367.1 411.7,370.8 411.7,377.1 415.8,378.8 417.5,384.2 419.7,390.5 422.0,391.9 424.7,388.0 425.4,382.2 422.6,373.8 419.2,366.2 416.7,361.2 417.5,357.0 415.3,351.2 411.7,344.4 410.8,342.3 416.7,336.9 422.0,331.5 427.1,327.2 425.4,324.8 420.0,326.5 413.3,328.5 408.3,330.5 404.1,333.2 401.6,331.0 398.2,326.0 396.6,320.1 397.4,311.8 403.3,310.1 413.3,309.8 423.4,310.1 430.1,311.4 436.8,308.4 442.0,303.4 442.8,298.4 443.2,293.7 441.0,295.0 439.3,298.4 433.4,302.5 423.4,303.4 413.3,301.7ZM437.1,340.6 439.3,338.9 442.0,339.9 441.5,342.3 438.8,342.8ZM446.1,185.5 449.1,190.0 452.4,196.8 454.1,206.3 455.3,212.6 455.3,217.6 454.3,222.6 452.8,227.0 451.5,230.8 450.3,225.1 449.3,218.6 446.5,221.4 444.0,226.4 446.5,231.4 447.1,237.7 445.3,241.5 443.4,240.2 439.0,236.5 434.6,232.7 432.4,227.7 432.9,221.4 433.7,217.0 431.4,215.1 428.3,212.6 425.1,214.1 423.3,217.6 422.0,216.3 420.1,213.2 417.6,217.0 416.3,220.1 415.1,223.9 414.5,218.9 415.7,212.6 418.9,208.8 422.6,205.7 425.8,202.5 428.3,200.6 430.6,203.8 433.1,206.5 437.1,201.3 440.1,197.5 444.1,196.3 445.4,191.3ZM467.1,287.3 465.1,291.6 463.8,295.0 462.1,301.7 464.6,308.4 463.8,315.1 467.1,321.8 471.3,327.7 469.7,322.7 468.0,315.1 468.8,310.1 471.3,309.2 470.8,305.1 473.0,301.7 473.8,296.7 473.0,295.0 468.8,291.6ZM488.9,318.5 492.3,316.5 496.5,319.3 493.1,322.2 489.8,321.0ZM462.1,338.9 465.1,334.9 468.8,338.9ZM450.7,361.2 453.7,357.9 458.4,359.0 459.6,363.7 457.1,367.4 452.9,365.4ZM468.0,357.9 469.7,354.5 476.4,354.0 481.4,352.8 485.6,356.2 490.6,358.4 492.3,362.9 491.9,367.1 487.3,364.6 481.4,362.0 475.5,361.2 470.5,361.2 468.0,359.5ZM533.9,326.0 538.4,324.8 541.2,329.4 538.4,331.9 535.0,329.4ZM525.0,388.9 527.1,393.9 526.6,400.6 525.0,405.6 522.8,406.0 522.1,398.9 523.3,393.1ZM588.0,352.8 579.4,348.6 569.4,344.4 561.0,338.6 556.0,335.6 551.8,337.7 547.6,342.8 543.4,345.3 540.1,351.2 536.7,357.9 533.4,360.7 530.0,358.7 527.5,352.8 525.0,345.3 522.5,337.7 521.6,331.0 519.1,325.2 514.1,324.3 511.6,321.5 507.4,320.5 502.3,322.7 497.3,327.7 494.0,332.7 497.3,335.2 501.5,337.7 503.2,342.8 506.5,345.3 512.4,345.3 518.3,344.4 519.4,343.6 518.3,347.8 514.1,351.2 509.0,352.8 504.0,353.7 506.5,357.0 509.0,360.4 510.7,367.1 513.2,369.6 516.6,364.6 518.3,363.7 522.5,367.1 527.5,370.4 533.4,373.8 540.9,377.1M519.4,343.6 522.1,338.9M540.9,377.0 542.6,378.8 551.4,385.0 556.4,391.3 560.1,400.0 562.1,410.1 562.6,414.6 557.6,416.3 556.4,421.3 554.6,427.1 560.1,425.6 570.1,423.8 575.6,425.1 579.6,431.3 585.2,435.6 592.7,438.1 598.9,438.8 603.2,435.6 605.2,428.8 608.9,422.6 612.7,418.1 617.7,417.1 625.2,420.1 630.2,428.8 635.2,437.6 640.2,445.1 647.7,450.1 657.7,453.9 666.5,458.1M587.9,352.9 590.2,353.9 600.2,358.9 610.2,365.2 617.7,371.4 622.7,377.7 625.2,385.2M625.2,385.3 626.5,385.0 632.7,391.3 640.2,397.5 644.0,401.3 639.0,407.5 641.5,415.1 646.5,422.6 650.2,431.3 654.0,437.6 657.7,442.6 662.8,445.1 666.5,450.6M666.5,388.5 657.7,390.0 651.5,390.0 648.2,391.5 650.2,393.8 654.0,395.5 659.0,397.5 666.5,398.0M633.9,344.3 636.4,342.2 639.7,342.7 640.6,344.8 638.1,346.4 634.7,346.1ZM524.6,389.5 527.1,393.8 525.6,402.5 522.6,408.0 521.3,405.0 522.6,396.3ZM497.5,411.3 500.1,415.1 498.0,421.3 495.5,422.1 495.8,416.3ZM361.9,428.9 363.8,427.4 365.7,428.3 365.3,432.7 363.5,434.7 361.5,433.3ZM367.8,432.7 369.4,430.2 372.6,428.9 375.7,429.6 377.6,427.7 377.0,425.2 378.9,423.9 380.7,425.2 382.6,424.5 384.5,426.4 386.4,427.1 387.0,429.6 388.3,432.1 385.8,432.7 383.9,431.5 382.0,432.7 380.1,432.1 378.9,431.5 377.6,432.7 375.7,435.2 372.6,437.1 369.4,437.1 367.8,435.2ZM395.8,429.6 397.7,427.1 401.5,426.2 405.3,427.9 408.4,430.2 412.8,429.6 416.6,428.3 420.3,425.2 422.9,422.9 424.4,424.5 423.5,427.7 421.6,430.8 418.5,432.1 415.3,433.3 412.2,435.0 408.4,436.2 405.3,435.0 401.5,433.3 397.7,433.3 395.8,431.5ZM388.3,442.8 392.1,440.9 396.5,440.9 400.2,443.4 403.4,447.2 404.6,450.3 402.7,452.8 399.6,453.1 397.1,450.3 393.9,447.2 390.2,446.5 388.3,445.3ZM427.1,426.6 429.1,425.8 430.3,427.6 428.6,429.1ZM434.6,426.3 439.1,425.1 442.8,426.6 440.3,428.8 436.1,428.6ZM449.1,418.8 454.1,416.8 456.1,419.5 452.9,423.1 449.1,422.1ZM427.9,453.5 428.9,447.8 431.7,442.8 435.4,438.4 440.5,433.3 446.7,430.2 453.0,428.3 459.3,427.4 461.2,428.7 459.3,431.5 455.5,434.0 450.5,436.5 446.7,439.0 442.3,442.8 438.6,447.8 435.4,451.6 431.7,453.1ZM391.3,585.1 395.0,583.3 403.2,580.6 408.7,575.1 413.3,565.9 416.9,559.5 416.0,550.4 419.7,543.1 423.3,538.1 427.9,549.8 431.2,543.1 428.8,534.9 433.8,534.5 438.0,524.8 442.9,513.8 448.9,512.5 450.8,508.3 456.3,503.8 459.0,502.9 463.0,505.6 467.2,512.9 469.1,519.3 475.5,515.7 480.9,519.3 484.2,517.5 484.6,513.8 479.5,510.2 482.8,502.9 485.5,498.3 489.7,496.8 487.9,492.8 491.0,486.4 495.6,482.2 501.1,481.5 506.5,480.9 509.0,475.0 508.2,469.5 514.0,472.5 520.2,476.3 527.7,478.8 534.0,481.3 537.8,478.8 542.8,478.0 546.5,481.3 547.7,483.7 544.9,492.8 540.4,494.6 538.5,503.8 535.8,512.9 535.4,517.5 539.5,521.1 543.1,524.8 544.9,529.0 550.4,530.3 552.5,533.6 560.0,539.1 566.3,542.9 571.3,550.4 575.6,554.7 581.4,552.4 583.9,547.9 585.1,540.3 586.2,534.3M487.2,471.3 490.2,468.8 498.2,468.0 499.7,471.3 495.7,475.5 488.9,475.0ZM548.9,530.2 553.9,534.0M586.4,534.0 588.2,525.2 588.7,515.2 588.7,503.0 589.7,497.5 590.3,493.0 590.6,488.4 590.1,482.9 590.3,478.3 591.9,475.1 592.7,471.9 592.9,467.4 594.2,463.7 596.5,461.4 599.3,462.8 600.6,465.5 601.1,470.1 602.4,475.6 603.8,481.1 605.6,486.6 606.7,491.1 607.0,495.7 606.6,501.2 607.7,505.8 609.3,508.5 611.6,509.4 613.9,508.0 616.2,508.0 617.5,509.4 620.2,515.2 622.7,525.2 624.0,534.0M624.1,533.8 624.9,537.8 628.4,546.6 629.9,554.2 629.1,561.7 632.9,570.5 637.9,575.0 641.7,575.5 646.7,583.1 648.5,585.6" fill="none" stroke="#000" stroke-width="2" stroke-linejoin="round" stroke-linecap="round"/><path d="M155.5,137.6 154.8,140.6" fill="none" stroke="#000" stroke-width="4.2" stroke-linecap="round"/><path d="M154.5,146.6 152.3,160.1" fill="none" stroke="#000" stroke-width="4.2" stroke-linecap="round"/></g>
<text x="129.5" y="613" font-size="20.83" text-anchor="middle">90</text>
<text x="218.5" y="613" font-size="20.83" text-anchor="middle">100</text>
<text x="307.5" y="613" font-size="20.83" text-anchor="middle">110</text>
<text x="396.5" y="613" font-size="20.83" text-anchor="middle">120</text>
<text x="485.5" y="613" font-size="20.83" text-anchor="middle">130</text>
<text x="574.5" y="613" font-size="20.83" text-anchor="middle">140</text>
<text x="663.5" y="613" font-size="20.83" text-anchor="middle">150</text>
<text x="120.6" y="591.8" font-size="20.83" text-anchor="end">-20</text>
<text x="120.6" y="524.8" font-size="20.83" text-anchor="end">-15</text>
<text x="120.6" y="457.8" font-size="20.83" text-anchor="end">-10</text>
<text x="120.6" y="390.8" font-size="20.83" text-anchor="end">-5</text>
<text x="120.6" y="323.8" font-size="20.83" text-anchor="end">0</text>
<text x="120.6" y="256.8" font-size="20.83" text-anchor="end">5</text>
<text x="120.6" y="189.8" font-size="20.83" text-anchor="end">10</text>
<text x="120.6" y="122.8" font-size="20.83" text-anchor="end">15</text>
<text x="120.6" y="55.8" font-size="20.83" text-anchor="end">20</text>
<text x="397.5" y="643.5" font-size="22.9" text-anchor="middle">Geographic Lon. (<tspan dx="2.5">°</tspan><tspan dx="2.5">)</tspan></text>
<text transform="translate(77.5,316) rotate(-90)" font-size="22.9" text-anchor="middle">Geographic Lat. (<tspan dx="2.5">°</tspan><tspan dx="2.5">)</tspan></text>
<text x="396.8" y="40" font-size="22.9" font-weight="bold" text-anchor="middle" style="fill:#000">03-Apr-2025; 00:00 UT</text>
<rect x="698.5" y="574.17" width="32.0" height="8.83" fill="#00008f" shape-rendering="crispEdges"/>
<rect x="698.5" y="565.84" width="32.0" height="8.83" fill="#00009f" shape-rendering="crispEdges"/>
<rect x="698.5" y="557.52" width="32.0" height="8.83" fill="#0000af" shape-rendering="crispEdges"/>
<rect x="698.5" y="549.19" width="32.0" height="8.83" fill="#0000bf" shape-rendering="crispEdges"/>
<rect x="698.5" y="540.86" width="32.0" height="8.83" fill="#0000cf" shape-rendering="crispEdges"/>
<rect x="698.5" y="532.53" width="32.0" height="8.83" fill="#0000df" shape-rendering="crispEdges"/>
<rect x="698.5" y="524.20" width="32.0" height="8.83" fill="#0000ef" shape-rendering="crispEdges"/>
<rect x="698.5" y="515.88" width="32.0" height="8.83" fill="#0000ff" shape-rendering="crispEdges"/>
<rect x="698.5" y="507.55" width="32.0" height="8.83" fill="#0010ff" shape-rendering="crispEdges"/>
<rect x="698.5" y="499.22" width="32.0" height="8.83" fill="#0020ff" shape-rendering="crispEdges"/>
<rect x="698.5" y="490.89" width="32.0" height="8.83" fill="#0030ff" shape-rendering="crispEdges"/>
<rect x="698.5" y="482.56" width="32.0" height="8.83" fill="#0040ff" shape-rendering="crispEdges"/>
<rect x="698.5" y="474.23" width="32.0" height="8.83" fill="#0050ff" shape-rendering="crispEdges"/>
<rect x="698.5" y="465.91" width="32.0" height="8.83" fill="#0060ff" shape-rendering="crispEdges"/>
<rect x="698.5" y="457.58" width="32.0" height="8.83" fill="#0070ff" shape-rendering="crispEdges"/>
<rect x="698.5" y="449.25" width="32.0" height="8.83" fill="#0080ff" shape-rendering="crispEdges"/>
<rect x="698.5" y="440.92" width="32.0" height="8.83" fill="#008fff" shape-rendering="crispEdges"/>
<rect x="698.5" y="432.59" width="32.0" height="8.83" fill="#009fff" shape-rendering="crispEdges"/>
<rect x="698.5" y="424.27" width="32.0" height="8.83" fill="#00afff" shape-rendering="crispEdges"/>
<rect x="698.5" y="415.94" width="32.0" height="8.83" fill="#00bfff" shape-rendering="crispEdges"/>
<rect x="698.5" y="407.61" width="32.0" height="8.83" fill="#00cfff" shape-rendering="crispEdges"/>
<rect x="698.5" y="399.28" width="32.0" height="8.83" fill="#00dfff" shape-rendering="crispEdges"/>
<rect x="698.5" y="390.95" width="32.0" height="8.83" fill="#00efff" shape-rendering="crispEdges"/>
<rect x="698.5" y="382.62" width="32.0" height="8.83" fill="#00ffff" shape-rendering="crispEdges"/>
<rect x="698.5" y="374.30" width="32.0" height="8.83" fill="#10ffef" shape-rendering="crispEdges"/>
<rect x="698.5" y="365.97" width="32.0" height="8.83" fill="#20ffdf" shape-rendering="crispEdges"/>
<rect x="698.5" y="357.64" width="32.0" height="8.83" fill="#30ffcf" shape-rendering="crispEdges"/>
<rect x="698.5" y="349.31" width="32.0" height="8.83" fill="#40ffbf" shape-rendering="crispEdges"/>
<rect x="698.5" y="340.98" width="32.0" height="8.83" fill="#50ffaf" shape-rendering="crispEdges"/>
<rect x="698.5" y="332.66" width="32.0" height="8.83" fill="#60ff9f" shape-rendering="crispEdges"/>
<rect x="698.5" y="324.33" width="32.0" height="8.83" fill="#70ff8f" shape-rendering="crispEdges"/>
<rect x="698.5" y="316.00" width="32.0" height="8.83" fill="#80ff80" shape-rendering="crispEdges"/>
<rect x="698.5" y="307.67" width="32.0" height="8.83" fill="#8fff70" shape-rendering="crispEdges"/>
<rect x="698.5" y="299.34" width="32.0" height="8.83" fill="#9fff60" shape-rendering="crispEdges"/>
<rect x="698.5" y="291.02" width="32.0" height="8.83" fill="#afff50" shape-rendering="crispEdges"/>
<rect x="698.5" y="282.69" width="32.0" height="8.83" fill="#bfff40" shape-rendering="crispEdges"/>
<rect x="698.5" y="274.36" width="32.0" height="8.83" fill="#cfff30" shape-rendering="crispEdges"/>
<rect x="698.5" y="266.03" width="32.0" height="8.83" fill="#dfff20" shape-rendering="crispEdges"/>
<rect x="698.5" y="257.70" width="32.0" height="8.83" fill="#efff10" shape-rendering="crispEdges"/>
<rect x="698.5" y="249.38" width="32.0" height="8.83" fill="#ffff00" shape-rendering="crispEdges"/>
<rect x="698.5" y="241.05" width="32.0" height="8.83" fill="#ffef00" shape-rendering="crispEdges"/>
<rect x="698.5" y="232.72" width="32.0" height="8.83" fill="#ffdf00" shape-rendering="crispEdges"/>
<rect x="698.5" y="224.39" width="32.0" height="8.83" fill="#ffcf00" shape-rendering="crispEdges"/>
<rect x="698.5" y="216.06" width="32.0" height="8.83" fill="#ffbf00" shape-rendering="crispEdges"/>
<rect x="698.5" y="207.73" width="32.0" height="8.83" fill="#ffaf00" shape-rendering="crispEdges"/>
<rect x="698.5" y="199.41" width="32.0" height="8.83" fill="#ff9f00" shape-rendering="crispEdges"/>
<rect x="698.5" y="191.08" width="32.0" height="8.83" fill="#ff8f00" shape-rendering="crispEdges"/>
<rect x="698.5" y="182.75" width="32.0" height="8.83" fill="#ff8000" shape-rendering="crispEdges"/>
<rect x="698.5" y="174.42" width="32.0" height="8.83" fill="#ff7000" shape-rendering="crispEdges"/>
<rect x="698.5" y="166.09" width="32.0" height="8.83" fill="#ff6000" shape-rendering="crispEdges"/>
<rect x="698.5" y="157.77" width="32.0" height="8.83" fill="#ff5000" shape-rendering="crispEdges"/>
<rect x="698.5" y="149.44" width="32.0" height="8.83" fill="#ff4000" shape-rendering="crispEdges"/>
<rect x="698.5" y="141.11" width="32.0" height="8.83" fill="#ff3000" shape-rendering="crispEdges"/>
<rect x="698.5" y="132.78" width="32.0" height="8.83" fill="#ff2000" shape-rendering="crispEdges"/>
<rect x="698.5" y="124.45" width="32.0" height="8.83" fill="#ff1000" shape-rendering="crispEdges"/>
<rect x="698.5" y="116.12" width="32.0" height="8.83" fill="#ff0000" shape-rendering="crispEdges"/>
<rect x="698.5" y="107.80" width="32.0" height="8.83" fill="#ef0000" shape-rendering="crispEdges"/>
<rect x="698.5" y="99.47" width="32.0" height="8.83" fill="#df0000" shape-rendering="crispEdges"/>
<rect x="698.5" y="91.14" width="32.0" height="8.83" fill="#cf0000" shape-rendering="crispEdges"/>
<rect x="698.5" y="82.81" width="32.0" height="8.83" fill="#bf0000" shape-rendering="crispEdges"/>
<rect x="698.5" y="74.48" width="32.0" height="8.83" fill="#af0000" shape-rendering="crispEdges"/>
<rect x="698.5" y="66.16" width="32.0" height="8.83" fill="#9f0000" shape-rendering="crispEdges"/>
<rect x="698.5" y="57.83" width="32.0" height="8.83" fill="#8f0000" shape-rendering="crispEdges"/>
<rect x="698.5" y="49.50" width="32.0" height="8.83" fill="#800000" shape-rendering="crispEdges"/>
<rect x="698.5" y="49.5" width="32.0" height="533.0" fill="none" stroke="#262626" stroke-width="1" shape-rendering="crispEdges"/>
<path d="M730.5 529.2h-6M730.5 475.9h-6M730.5 422.6h-6M730.5 369.3h-6M730.5 316.0h-6M730.5 262.7h-6M730.5 209.4h-6M730.5 156.1h-6M730.5 102.8h-6" stroke="#262626" stroke-width="1" fill="none" shape-rendering="crispEdges"/>
<text x="739.6" y="589.0" font-size="18.6">0</text>
<text x="739.6" y="535.7" font-size="18.6">10</text>
<text x="739.6" y="482.4" font-size="18.6">20</text>
<text x="739.6" y="429.1" font-size="18.6">30</text>
<text x="739.6" y="375.8" font-size="18.6">40</text>
<text x="739.6" y="322.5" font-size="18.6">50</text>
<text x="739.6" y="269.2" font-size="18.6">60</text>
<text x="739.6" y="215.9" font-size="18.6">70</text>
<text x="739.6" y="162.6" font-size="18.6">80</text>
<text x="739.6" y="109.3" font-size="18.6">90</text>
<text x="739.6" y="56.0" font-size="18.6">100</text>
<text transform="translate(797,316) rotate(-90)" font-size="19.1" text-anchor="middle">Total Electron Content (TECU)</text>
</svg></body></html>
